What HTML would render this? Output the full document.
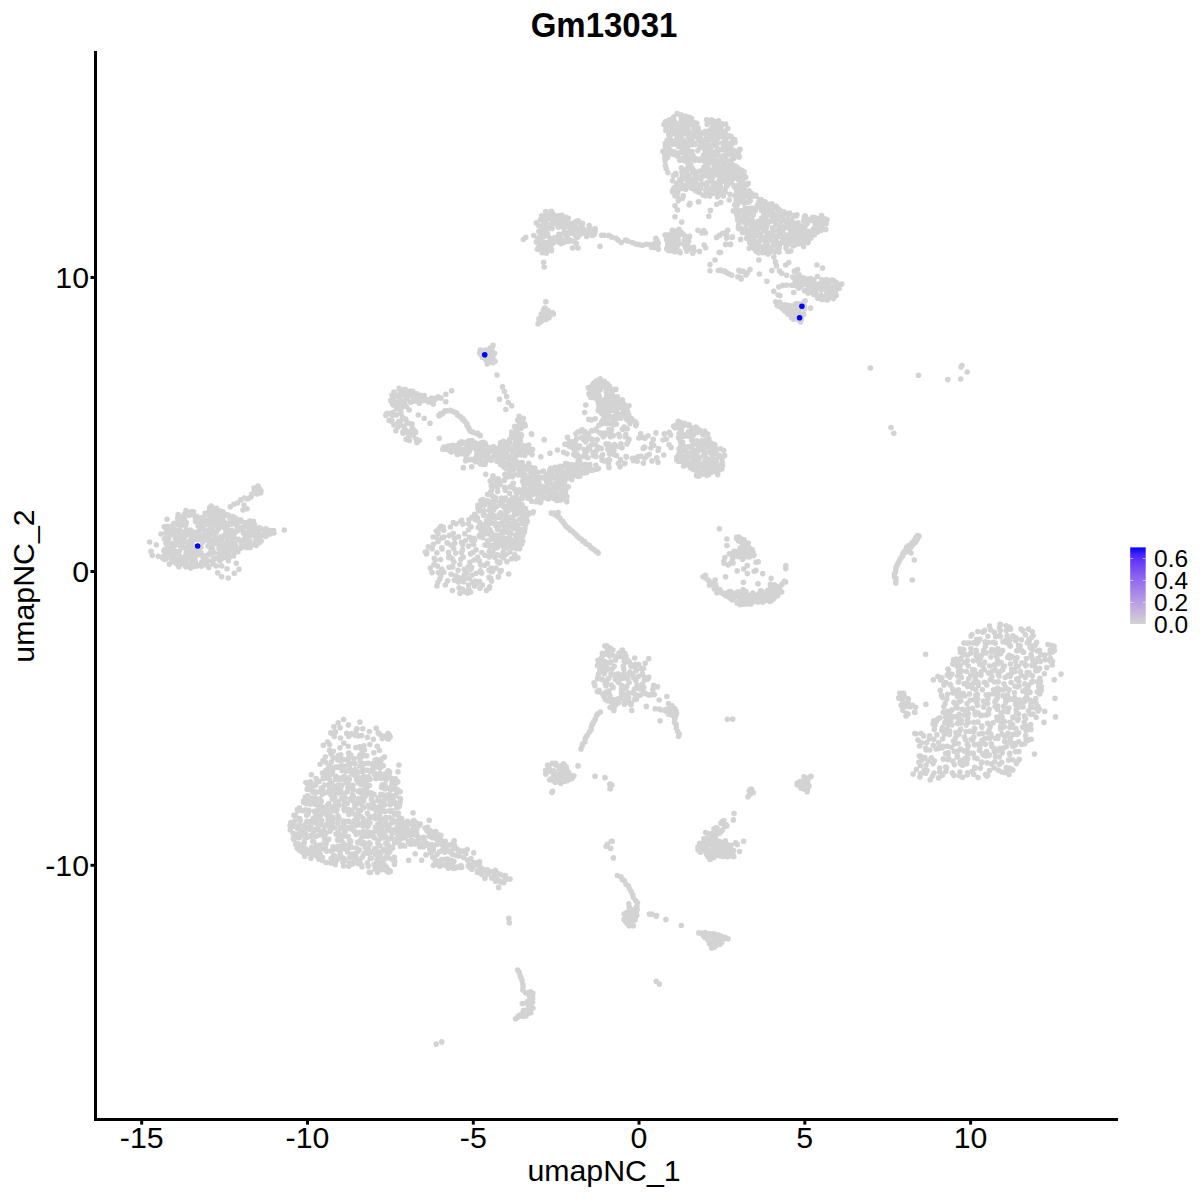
<!DOCTYPE html>
<html><head><meta charset="utf-8"><style>
html,body{margin:0;padding:0;background:#fff;width:1200px;height:1200px;overflow:hidden}
svg{display:block}
text{font-family:"Liberation Sans",sans-serif;fill:#000}
</style></head><body>
<svg width="1200" height="1200" viewBox="0 0 1200 1200">
<rect width="1200" height="1200" fill="#fff"/>

<path d="M547.4 214.4h0M551.2 213.8h0M544.0 216.3h0M548.2 215.7h0M554.9 217.2h0M556.4 217.6h0M545.2 219.8h0M548.9 218.4h0M553.4 218.2h0M553.9 220.3h0M558.6 219.1h0M563.7 218.8h0M544.0 222.2h0M546.5 223.6h0M552.5 221.9h0M557.2 222.0h0M560.2 221.6h0M565.9 222.7h0M568.1 223.4h0M570.8 223.8h0M573.4 223.0h0M580.8 223.5h0M541.6 225.7h0M544.2 226.7h0M551.6 224.6h0M556.3 223.7h0M557.5 224.9h0M561.2 224.6h0M566.2 225.0h0M571.1 224.6h0M573.0 224.4h0M575.0 224.2h0M580.9 226.2h0M582.0 226.0h0M589.1 225.6h0M544.7 227.6h0M548.1 226.9h0M549.5 227.1h0M552.1 228.4h0M558.2 226.9h0M559.1 226.7h0M563.9 227.7h0M568.4 227.0h0M570.7 228.1h0M576.3 228.2h0M577.4 228.9h0M580.2 228.3h0M584.1 229.6h0M590.2 228.4h0M593.5 229.4h0M541.9 230.5h0M544.0 231.4h0M547.0 230.5h0M563.9 232.6h0M565.9 232.9h0M569.9 231.8h0M573.4 230.9h0M576.4 231.5h0M580.8 231.9h0M583.8 231.1h0M586.0 230.5h0M592.2 231.7h0M595.1 231.0h0M540.2 235.3h0M544.6 235.9h0M547.5 234.0h0M558.9 234.4h0M559.6 235.0h0M565.6 235.1h0M566.3 235.0h0M570.9 233.2h0M574.4 233.3h0M578.4 235.0h0M585.4 233.8h0M590.2 234.1h0M592.4 235.5h0M541.3 236.9h0M547.8 236.0h0M550.6 238.6h0M554.5 237.9h0M559.7 235.8h0M560.8 238.7h0M567.5 238.2h0M568.0 238.7h0M575.6 235.7h0M539.7 240.8h0M544.0 242.0h0M549.2 241.8h0M554.7 240.2h0M558.5 240.7h0M560.6 240.8h0M563.0 240.8h0M568.1 241.3h0M570.0 239.8h0M574.2 241.4h0M539.7 244.8h0M543.1 244.4h0M548.3 243.6h0M553.7 242.6h0M554.6 242.0h0M559.7 242.6h0M562.6 242.5h0M539.6 245.1h0M542.4 246.4h0M545.2 245.9h0M548.8 246.7h0M538.0 248.9h0M540.4 250.0h0M545.0 250.6h0M547.7 247.9h0M551.5 250.6h0M542.1 252.8h0M536.3 222.7h0M538.4 225.5h0M538.8 231.5h0M540.0 230.7h0M537.8 238.8h0M536.4 241.9h0M538.3 247.8h0M537.4 249.2h0M541.8 251.1h0M546.4 253.1h0M549.7 249.8h0M551.4 249.5h0M551.5 244.4h0M561.0 243.6h0M563.9 242.2h0M571.2 241.0h0M576.2 243.4h0M577.9 237.1h0M579.7 234.5h0M580.5 234.1h0M586.7 236.4h0M588.3 233.8h0M594.5 234.2h0M595.2 228.8h0M582.5 223.3h0M578.2 220.8h0M576.4 221.4h0M568.4 218.2h0M566.3 217.4h0M561.9 215.3h0M558.5 215.7h0M553.3 214.0h0M551.3 211.3h0M545.7 211.5h0M541.7 215.9h0M540.5 219.8h0M523.3 239.5h0M525.8 237.2h0M533.8 235.5h0M572.5 248.0h0M578.0 248.0h0M543.7 262.2h0M544.2 267.0h0M600.0 246.2h0M601.5 235.2h0M604.2 235.2h0M608.7 235.4h0M611.6 237.1h0M615.7 238.1h0M618.1 240.1h0M621.2 242.5h0M625.5 240.1h0M627.8 241.1h0M632.3 242.6h0M636.0 244.1h0M639.3 244.6h0M642.5 245.2h0M646.4 244.2h0M649.7 244.6h0M654.7 243.2h0M656.9 240.4h0M656.8 244.1h0M657.8 247.3h0M654.8 247.4h0M651.5 247.3h0M545.8 301.7h0M544.7 308.0h0M545.3 309.8h0M543.4 310.4h0M546.7 312.2h0M548.0 310.6h0M543.4 312.9h0M545.5 314.9h0M550.5 314.2h0M545.7 316.0h0M549.0 317.7h0M542.9 319.8h0M546.1 319.5h0M539.3 321.7h0M541.1 321.6h0M545.3 308.3h0M541.4 314.0h0M541.7 318.0h0M538.9 318.8h0M538.1 323.8h0M541.4 320.1h0M549.8 316.0h0M553.3 313.9h0M552.8 312.8h0M545.0 309.6h0M683.8 116.5h0M685.7 116.2h0M672.1 119.0h0M673.7 117.0h0M681.4 118.0h0M683.4 118.3h0M688.2 118.0h0M691.6 118.6h0M669.1 120.1h0M673.3 121.2h0M674.3 121.2h0M680.8 122.4h0M681.5 121.5h0M688.0 121.0h0M689.0 122.0h0M710.9 122.1h0M713.2 120.7h0M663.9 124.6h0M666.4 124.6h0M669.9 123.0h0M672.6 123.4h0M678.4 123.8h0M681.2 125.3h0M684.9 123.8h0M688.3 123.4h0M693.4 122.6h0M695.8 125.2h0M707.1 124.3h0M711.9 122.9h0M716.9 122.5h0M719.6 125.2h0M670.4 125.4h0M672.9 125.3h0M677.1 125.3h0M679.5 126.8h0M684.6 127.1h0M687.9 126.4h0M688.2 125.4h0M693.4 125.6h0M698.1 127.9h0M712.4 128.5h0M715.1 127.9h0M717.4 125.1h0M721.3 125.9h0M666.3 130.2h0M672.1 128.3h0M673.6 130.5h0M677.7 129.8h0M679.5 130.6h0M682.9 130.1h0M687.7 128.3h0M693.8 129.6h0M698.2 129.5h0M705.5 131.2h0M710.1 130.1h0M711.8 128.3h0M716.9 129.8h0M718.3 129.8h0M721.8 130.6h0M669.3 131.9h0M672.8 132.5h0M675.9 134.0h0M680.0 132.1h0M683.1 133.7h0M687.9 134.2h0M688.3 131.6h0M693.4 133.6h0M695.9 131.7h0M702.0 132.7h0M705.6 134.0h0M707.4 132.8h0M712.4 133.3h0M716.1 132.5h0M719.2 132.6h0M722.5 131.3h0M724.4 133.4h0M671.3 134.4h0M677.3 135.6h0M681.7 135.7h0M688.2 137.2h0M693.0 136.9h0M695.2 136.3h0M700.3 134.8h0M700.5 137.6h0M706.6 134.9h0M708.2 136.9h0M711.9 134.2h0M715.7 136.5h0M718.2 137.5h0M721.6 136.8h0M727.0 136.4h0M731.2 136.6h0M669.9 139.3h0M671.2 140.2h0M676.7 138.9h0M680.9 140.2h0M689.6 138.2h0M692.2 137.7h0M698.3 139.2h0M698.9 140.5h0M706.2 138.7h0M710.7 138.5h0M714.3 138.6h0M717.0 139.9h0M726.2 138.5h0M732.7 138.7h0M667.1 140.3h0M671.5 141.8h0M674.6 142.6h0M677.3 143.6h0M682.6 140.6h0M683.2 140.4h0M688.0 142.2h0M692.9 142.3h0M694.6 143.5h0M700.0 140.8h0M702.1 140.6h0M707.4 142.5h0M708.2 140.3h0M713.2 140.8h0M716.2 141.1h0M722.8 142.9h0M725.2 141.3h0M730.5 143.0h0M668.3 146.4h0M672.8 144.1h0M676.9 144.6h0M680.5 144.6h0M684.1 146.5h0M685.8 143.5h0M691.0 144.8h0M694.9 144.4h0M700.6 143.4h0M704.1 145.1h0M705.7 146.1h0M710.4 145.9h0M714.2 145.5h0M717.3 143.5h0M723.3 144.9h0M727.5 144.9h0M731.5 144.5h0M665.5 148.3h0M669.7 149.8h0M678.8 146.8h0M680.9 146.6h0M685.8 149.7h0M687.3 147.8h0M699.9 147.2h0M703.8 148.2h0M704.6 147.4h0M708.9 149.6h0M711.4 146.7h0M717.8 148.9h0M723.1 149.0h0M725.7 148.5h0M728.9 148.4h0M665.7 149.9h0M668.6 149.4h0M671.0 151.0h0M674.2 151.8h0M681.5 151.8h0M686.1 152.0h0M690.3 151.7h0M692.1 151.5h0M697.9 150.6h0M705.1 152.5h0M708.0 151.1h0M710.3 151.0h0M714.1 152.0h0M717.0 151.8h0M720.8 149.7h0M725.5 150.0h0M728.7 151.3h0M732.3 149.8h0M734.4 150.9h0M664.5 153.7h0M668.9 154.0h0M671.1 153.7h0M674.0 154.5h0M676.1 152.7h0M681.2 152.4h0M685.0 155.7h0M686.9 154.4h0M693.0 155.2h0M703.6 155.0h0M706.4 152.7h0M710.2 155.3h0M713.8 153.1h0M715.0 153.4h0M718.2 155.1h0M724.0 155.4h0M728.1 154.6h0M731.7 152.5h0M734.5 155.6h0M738.1 154.5h0M664.8 157.7h0M667.6 157.4h0M677.8 156.3h0M681.6 158.8h0M685.0 157.2h0M689.1 157.5h0M696.2 158.9h0M700.7 158.7h0M702.8 158.8h0M705.7 158.2h0M710.7 157.2h0M713.9 158.0h0M721.8 158.6h0M724.8 158.1h0M732.8 157.8h0M679.8 160.2h0M684.4 160.7h0M689.1 160.3h0M691.2 159.8h0M695.0 160.3h0M699.3 160.3h0M702.3 160.1h0M704.4 159.8h0M710.8 160.2h0M712.6 158.8h0M716.9 160.7h0M720.4 161.3h0M722.7 161.8h0M726.7 160.2h0M731.4 160.3h0M687.6 162.9h0M689.9 163.0h0M705.4 162.2h0M705.8 163.2h0M709.4 163.0h0M713.9 162.9h0M716.5 163.4h0M722.9 163.1h0M726.0 161.7h0M730.0 162.3h0M731.5 162.7h0M681.3 167.7h0M688.1 167.2h0M690.7 164.7h0M703.8 167.3h0M706.7 167.1h0M707.9 166.2h0M714.2 166.3h0M716.3 166.4h0M719.3 167.0h0M724.7 165.2h0M725.7 167.4h0M730.3 166.1h0M734.7 165.7h0M684.0 170.1h0M687.3 168.5h0M691.3 169.2h0M692.3 168.2h0M702.8 170.2h0M708.0 169.2h0M711.3 170.3h0M713.7 170.7h0M718.5 168.4h0M721.6 169.7h0M725.7 170.6h0M727.5 169.7h0M731.3 169.9h0M736.0 170.8h0M737.2 170.3h0M742.2 170.7h0M675.7 173.2h0M681.9 172.1h0M686.5 171.8h0M692.6 171.9h0M694.5 171.0h0M699.9 171.1h0M702.5 172.0h0M705.5 171.6h0M710.6 171.7h0M711.4 173.5h0M717.8 172.2h0M720.4 171.1h0M724.2 172.7h0M727.6 170.7h0M729.9 174.0h0M739.0 170.7h0M742.6 173.4h0M686.8 176.3h0M689.0 175.6h0M695.0 175.1h0M695.9 174.6h0M701.1 176.9h0M704.6 175.8h0M707.5 173.8h0M709.9 175.5h0M714.3 175.1h0M719.2 176.6h0M721.9 174.0h0M726.5 177.0h0M727.5 174.9h0M731.4 175.7h0M742.8 174.3h0M681.2 180.0h0M683.8 178.4h0M687.8 179.6h0M690.6 179.0h0M696.4 179.3h0M697.6 177.2h0M700.8 179.2h0M709.1 177.1h0M712.7 177.3h0M721.0 177.8h0M721.7 178.9h0M681.4 180.8h0M687.9 181.5h0M691.1 182.1h0M692.8 179.8h0M707.0 182.5h0M711.7 180.9h0M713.6 183.1h0M718.6 181.5h0M720.4 182.4h0M724.7 180.9h0M679.8 183.0h0M684.2 185.6h0M688.6 184.9h0M696.3 183.8h0M700.2 185.0h0M703.0 184.4h0M704.4 184.5h0M707.5 182.9h0M713.3 185.8h0M716.2 184.0h0M718.5 182.8h0M726.8 183.9h0M679.6 189.0h0M683.5 187.4h0M687.6 186.5h0M691.6 188.3h0M697.1 187.2h0M700.4 188.6h0M706.9 187.2h0M711.8 188.3h0M713.8 189.1h0M716.7 188.9h0M720.6 186.9h0M726.6 185.9h0M677.7 191.7h0M696.8 189.5h0M705.7 190.1h0M710.3 190.1h0M712.5 189.5h0M716.7 191.8h0M719.6 192.1h0M723.7 190.7h0M677.5 193.3h0M707.8 194.3h0M713.3 192.7h0M717.5 192.8h0M720.1 194.4h0M723.2 192.7h0M666.4 127.2h0M665.8 130.3h0M668.7 134.8h0M668.1 141.1h0M665.4 143.3h0M665.4 146.6h0M662.9 151.3h0M665.1 160.8h0M665.4 165.5h0M666.2 168.6h0M667.9 172.6h0M673.4 175.6h0M676.0 174.7h0M682.2 176.6h0M679.8 179.6h0M677.7 184.6h0M672.7 190.2h0M674.8 192.7h0M676.7 195.0h0M677.8 192.6h0M680.8 188.6h0M682.9 188.2h0M684.5 186.4h0M691.9 186.6h0M695.6 190.7h0M698.7 192.0h0M703.0 195.0h0M709.8 196.1h0M709.8 194.9h0M718.1 195.4h0M723.3 196.0h0M725.1 192.1h0M727.5 185.2h0M725.3 180.9h0M728.5 178.2h0M733.4 177.5h0M737.6 176.3h0M740.6 176.1h0M743.6 175.6h0M744.0 171.8h0M739.5 169.2h0M736.8 166.9h0M733.9 158.2h0M733.8 156.2h0M738.6 155.0h0M738.7 150.7h0M733.4 150.7h0M730.4 147.6h0M734.7 139.6h0M733.6 139.7h0M729.1 135.8h0M725.4 131.3h0M727.8 128.6h0M725.7 124.0h0M722.1 123.7h0M718.5 120.8h0M711.6 119.7h0M706.7 119.8h0M695.5 123.1h0M696.9 123.2h0M689.1 117.4h0M685.5 116.5h0M684.3 116.5h0M680.8 114.9h0M677.1 113.6h0M665.4 121.7h0M734.0 174.3h0M736.6 173.6h0M733.9 176.5h0M739.4 177.3h0M745.2 177.3h0M745.7 177.3h0M732.9 178.4h0M738.1 179.6h0M742.8 182.1h0M736.3 185.8h0M740.3 183.5h0M741.4 182.5h0M734.1 185.9h0M738.9 185.9h0M727.3 173.7h0M730.8 178.0h0M731.4 181.6h0M730.7 182.4h0M737.7 187.6h0M737.5 188.3h0M744.0 186.8h0M746.0 184.5h0M747.0 184.7h0M744.5 177.8h0M744.2 175.3h0M740.2 173.1h0M735.8 173.4h0M734.7 172.0h0M685.7 189.2h0M694.2 189.2h0M698.3 191.7h0M698.3 201.7h0M690.0 203.3h0M705.0 195.8h0M713.3 193.3h0M735.0 187.1h0M748.3 183.3h0M740.0 149.2h0M739.2 157.1h0M735.0 142.5h0M736.7 190.1h0M742.2 187.4h0M736.4 193.4h0M740.3 190.4h0M742.3 191.1h0M746.1 191.3h0M737.9 194.2h0M740.6 194.8h0M743.3 195.5h0M746.5 194.2h0M752.8 195.8h0M756.0 196.1h0M740.2 199.5h0M742.5 199.2h0M744.8 196.3h0M749.2 198.1h0M751.9 196.3h0M736.2 199.5h0M740.9 201.8h0M743.7 201.4h0M748.8 202.1h0M750.2 200.7h0M758.7 202.4h0M762.5 201.5h0M736.1 202.4h0M737.3 204.7h0M743.8 202.7h0M745.4 202.4h0M757.4 205.3h0M760.1 203.5h0M764.8 203.9h0M768.8 204.9h0M771.6 205.2h0M736.4 207.7h0M745.2 208.1h0M748.6 208.6h0M752.0 208.0h0M756.1 208.1h0M759.2 205.8h0M762.1 208.6h0M765.2 206.9h0M768.2 207.5h0M773.4 207.2h0M777.2 207.8h0M739.8 211.6h0M741.0 210.8h0M745.3 209.2h0M748.0 211.8h0M752.9 211.4h0M755.2 210.7h0M761.4 210.3h0M764.0 210.6h0M769.1 210.3h0M777.9 209.9h0M779.4 209.9h0M737.6 211.6h0M739.6 211.8h0M744.9 213.6h0M749.4 214.0h0M752.0 213.4h0M765.9 211.7h0M768.5 214.2h0M772.3 211.7h0M775.7 214.7h0M779.7 213.2h0M783.9 211.9h0M785.7 213.2h0M789.5 213.1h0M737.2 216.0h0M738.1 214.7h0M747.7 216.7h0M748.5 214.5h0M753.3 215.1h0M763.8 214.7h0M766.5 216.3h0M771.1 214.6h0M773.4 217.0h0M776.5 216.1h0M782.2 216.9h0M787.7 214.7h0M793.1 215.5h0M796.1 216.1h0M815.3 217.8h0M738.6 220.5h0M739.7 217.8h0M743.4 217.9h0M748.1 220.6h0M752.0 219.8h0M761.7 218.1h0M763.6 220.4h0M772.3 218.0h0M776.7 219.2h0M780.8 217.7h0M783.6 219.4h0M787.3 219.9h0M789.0 219.9h0M791.7 220.2h0M805.1 218.4h0M807.7 219.1h0M811.5 220.2h0M813.3 218.3h0M819.5 220.7h0M821.3 220.3h0M824.3 218.7h0M739.3 220.8h0M744.2 222.5h0M744.6 222.1h0M749.9 223.8h0M752.3 221.3h0M757.7 221.6h0M759.0 221.1h0M762.0 221.2h0M768.2 221.5h0M770.2 221.4h0M775.2 221.9h0M781.1 221.2h0M786.3 223.6h0M789.9 222.4h0M794.2 223.1h0M798.0 222.8h0M803.7 220.7h0M804.6 221.2h0M807.5 223.2h0M815.0 220.6h0M819.8 222.5h0M824.2 223.2h0M825.9 223.7h0M746.1 224.6h0M751.9 226.5h0M755.9 224.4h0M759.3 226.8h0M761.1 225.7h0M764.9 225.1h0M767.2 224.5h0M775.9 224.2h0M779.3 226.1h0M783.5 226.8h0M787.1 225.8h0M790.4 226.3h0M794.5 224.1h0M796.0 226.6h0M800.4 225.7h0M815.2 224.3h0M818.0 224.2h0M822.3 224.7h0M826.2 223.8h0M742.9 229.6h0M745.6 229.4h0M749.2 229.8h0M753.6 227.3h0M757.2 229.1h0M761.8 228.3h0M762.1 227.1h0M766.4 227.5h0M772.4 227.7h0M779.1 229.5h0M781.1 227.6h0M785.0 227.7h0M789.2 227.9h0M792.6 228.3h0M796.6 229.3h0M797.3 226.7h0M800.8 227.5h0M805.0 226.6h0M813.5 228.8h0M816.3 226.5h0M818.7 229.4h0M821.4 227.6h0M743.6 229.6h0M748.3 230.0h0M751.9 230.4h0M753.1 232.8h0M757.3 230.1h0M763.2 230.2h0M766.0 231.4h0M768.3 232.8h0M773.2 230.5h0M774.7 229.9h0M780.4 231.8h0M782.7 230.7h0M790.7 232.1h0M793.1 231.0h0M796.2 230.8h0M801.5 230.9h0M803.8 230.9h0M808.6 231.4h0M811.7 231.7h0M814.5 230.5h0M746.6 232.8h0M748.6 234.4h0M752.4 235.8h0M758.0 235.0h0M760.7 234.4h0M768.1 235.9h0M771.6 235.1h0M772.5 234.9h0M779.0 233.7h0M780.5 234.6h0M786.1 235.0h0M789.3 235.7h0M792.4 233.3h0M794.8 234.1h0M799.7 235.0h0M804.0 234.9h0M809.3 233.4h0M812.1 233.7h0M748.8 238.6h0M751.9 235.7h0M753.9 238.3h0M758.8 235.9h0M762.5 238.3h0M766.2 236.8h0M768.8 235.7h0M774.5 235.8h0M779.1 236.3h0M782.3 237.1h0M786.8 238.7h0M790.9 237.7h0M792.6 236.8h0M795.6 235.7h0M801.1 237.4h0M803.6 238.0h0M807.5 236.1h0M810.0 236.0h0M753.3 241.2h0M755.3 241.5h0M759.4 241.3h0M765.1 241.2h0M769.9 239.7h0M773.2 241.5h0M776.0 239.1h0M782.7 240.8h0M784.8 239.5h0M789.6 241.4h0M791.7 239.2h0M795.7 239.4h0M799.2 239.4h0M803.5 239.6h0M807.1 241.2h0M807.4 240.1h0M752.2 243.5h0M753.9 243.0h0M757.6 245.0h0M765.4 245.0h0M767.1 243.8h0M773.9 244.7h0M775.6 242.6h0M779.1 243.2h0M782.6 242.8h0M786.1 244.1h0M788.5 243.4h0M792.6 242.9h0M795.2 244.6h0M798.7 244.0h0M803.0 242.9h0M754.3 247.0h0M755.8 246.3h0M759.7 246.2h0M763.4 246.7h0M766.8 246.8h0M769.8 247.2h0M777.0 247.3h0M779.3 245.1h0M786.0 247.9h0M786.5 245.7h0M792.7 245.6h0M754.6 249.0h0M756.9 249.2h0M763.0 250.9h0M764.8 248.5h0M768.9 250.9h0M771.1 248.4h0M779.2 248.1h0M756.0 251.1h0M764.2 252.2h0M766.3 252.0h0M778.9 252.1h0M788.7 251.3h0M737.7 187.8h0M737.3 191.1h0M735.0 196.0h0M736.9 201.6h0M734.8 205.1h0M736.6 213.7h0M739.0 217.8h0M737.7 219.9h0M738.7 225.1h0M741.2 228.3h0M742.5 232.4h0M747.4 236.4h0M749.7 242.8h0M750.4 243.1h0M751.4 246.5h0M757.3 250.3h0M758.7 252.9h0M762.7 252.8h0M768.0 254.1h0M769.8 252.2h0M775.0 251.7h0M787.8 251.5h0M790.8 251.0h0M794.0 245.6h0M803.6 246.4h0M808.1 242.6h0M811.0 237.9h0M814.3 234.8h0M817.5 232.1h0M820.8 230.4h0M825.8 229.6h0M825.6 221.8h0M826.9 219.6h0M821.6 215.5h0M818.6 218.8h0M812.7 217.4h0M805.1 215.7h0M804.2 217.0h0M796.9 214.9h0M787.9 213.8h0M779.6 210.0h0M776.0 206.3h0M772.0 203.7h0M769.0 204.4h0M764.9 201.7h0M761.2 199.6h0M759.7 199.5h0M755.9 195.2h0M752.0 193.9h0M749.0 190.7h0M744.3 186.8h0M741.6 187.2h0M672.5 180.8h0M676.7 183.3h0M680.0 181.7h0M674.2 187.5h0M672.5 191.7h0M675.0 195.8h0M678.3 198.3h0M678.3 200.8h0M683.3 195.8h0M682.5 198.3h0M685.8 189.2h0M689.2 205.0h0M698.8 201.7h0M675.0 205.8h0M677.5 210.0h0M675.0 216.7h0M681.7 222.1h0M695.0 189.2h0M699.2 192.5h0M705.0 195.8h0M713.3 193.3h0M719.2 189.2h0M725.0 189.2h0M730.0 194.2h0M729.2 200.0h0M717.5 196.7h0M716.7 204.2h0M720.8 202.5h0M735.0 187.5h0M733.3 210.8h0M744.2 215.0h0M749.2 220.0h0M710.4 210.4h0M708.8 216.2h0M655.8 238.3h0M658.3 243.3h0M658.3 249.2h0M738.3 228.3h0M745.8 230.8h0M740.8 239.2h0M719.2 252.5h0M715.0 260.0h0M710.0 264.6h0M710.0 270.8h0M725.8 244.2h0M730.0 244.2h0M750.0 233.3h0M746.7 238.3h0M750.8 243.3h0M749.2 248.3h0M674.0 230.8h0M676.2 231.7h0M670.4 234.9h0M676.9 234.6h0M679.4 234.2h0M668.2 235.2h0M673.8 236.8h0M677.7 235.9h0M679.4 235.1h0M685.1 236.1h0M669.1 240.2h0M670.6 238.1h0M675.4 240.1h0M678.1 240.1h0M684.3 240.3h0M667.8 244.3h0M670.0 243.2h0M673.9 241.5h0M677.4 244.4h0M679.2 243.6h0M685.1 243.8h0M687.7 241.0h0M667.7 246.0h0M672.1 246.4h0M673.6 246.6h0M678.0 244.9h0M683.8 244.1h0M686.4 244.2h0M687.7 245.4h0M671.1 248.2h0M676.3 249.1h0M685.5 247.8h0M688.9 248.4h0M691.0 248.4h0M672.2 250.7h0M674.8 251.7h0M679.6 251.4h0M693.6 250.3h0M665.1 235.1h0M666.5 239.8h0M666.7 249.0h0M668.7 250.6h0M670.6 250.2h0M675.8 251.2h0M680.2 252.7h0M686.9 251.1h0M692.7 253.1h0M694.1 251.1h0M693.6 247.3h0M688.6 241.5h0M688.2 239.5h0M689.6 236.4h0M683.2 234.2h0M681.3 232.3h0M679.0 229.4h0M672.4 230.4h0M672.3 231.2h0M667.6 235.0h0M701.9 232.9h0M704.2 245.0h0M697.9 230.2h0M699.5 251.4h0M705.6 247.7h0M705.4 233.0h0M703.7 230.5h0M716.6 237.4h0M719.6 235.4h0M722.7 233.2h0M727.7 230.3h0M726.6 234.9h0M726.6 238.1h0M732.4 236.9h0M718.4 270.5h0M722.2 270.7h0M726.4 272.5h0M731.5 275.1h0M794.5 271.1h0M799.1 274.7h0M794.4 277.3h0M798.2 275.6h0M795.2 281.2h0M798.0 279.3h0M801.5 280.3h0M803.0 280.9h0M806.5 279.7h0M813.7 280.1h0M825.5 280.9h0M829.3 281.0h0M796.0 284.5h0M800.2 282.1h0M802.8 283.4h0M804.6 284.4h0M809.3 281.3h0M812.5 281.1h0M817.3 284.4h0M819.0 284.1h0M823.8 284.5h0M828.1 283.1h0M831.6 281.2h0M836.3 282.6h0M799.0 286.5h0M800.3 286.7h0M804.2 284.6h0M809.1 286.0h0M813.1 286.4h0M816.0 284.6h0M817.4 286.0h0M822.0 287.5h0M824.1 287.3h0M830.1 287.0h0M833.7 286.6h0M836.0 285.2h0M838.1 284.3h0M806.0 290.6h0M809.2 287.3h0M814.4 289.9h0M818.2 288.4h0M821.6 289.9h0M822.7 288.1h0M826.6 288.2h0M832.4 287.2h0M835.6 287.4h0M837.7 288.2h0M807.2 292.1h0M811.1 291.9h0M814.3 293.0h0M826.8 292.7h0M830.6 290.2h0M831.1 291.0h0M813.8 294.4h0M816.4 293.8h0M820.6 295.4h0M825.2 296.3h0M826.6 296.5h0M831.5 295.0h0M834.9 294.3h0M819.5 297.3h0M823.4 299.1h0M824.7 298.2h0M830.5 296.4h0M831.4 296.5h0M834.3 296.7h0M794.3 271.2h0M792.8 277.1h0M794.5 285.5h0M798.7 288.1h0M804.5 290.7h0M808.2 293.1h0M814.0 294.1h0M817.7 298.1h0M821.8 299.4h0M827.4 299.9h0M828.7 297.9h0M833.4 298.6h0M836.3 295.2h0M835.4 290.9h0M839.1 288.5h0M841.7 284.1h0M833.7 280.6h0M832.1 280.1h0M826.4 279.6h0M821.9 279.7h0M817.4 276.5h0M810.8 278.5h0M809.7 278.7h0M805.3 278.5h0M803.2 277.9h0M797.6 269.6h0M773.9 257.0h0M775.5 261.9h0M776.4 265.9h0M779.5 271.1h0M781.9 273.5h0M786.7 275.2h0M778.8 287.0h0M782.7 285.4h0M786.6 285.1h0M791.6 285.3h0M796.8 285.7h0M773.8 291.2h0M778.1 295.0h0M780.0 295.6h0M793.8 292.5h0M816.9 265.0h0M822.5 268.1h0M788.8 262.5h0M785.6 265.0h0M758.8 260.0h0M759.4 274.0h0M766.9 281.2h0M771.9 270.6h0M810.6 308.1h0M800.6 321.9h0M738.8 228.8h0M746.2 231.2h0M740.6 239.4h0M726.2 232.5h0M731.9 237.5h0M725.6 244.4h0M730.6 244.4h0M720.6 252.5h0M777.0 305.0h0M780.7 304.2h0M782.7 305.7h0M787.3 305.3h0M799.1 303.9h0M802.8 305.9h0M778.5 306.2h0M782.1 308.6h0M785.8 309.0h0M788.2 305.6h0M789.9 305.8h0M795.5 307.4h0M797.5 306.2h0M802.1 305.9h0M785.4 309.4h0M789.7 309.5h0M793.9 309.1h0M798.2 309.0h0M799.5 310.0h0M787.7 313.6h0M792.4 312.2h0M797.2 313.6h0M800.7 314.9h0M791.6 317.8h0M795.4 315.7h0M800.2 314.9h0M775.7 301.8h0M779.8 306.5h0M784.8 311.1h0M787.9 313.5h0M788.6 314.5h0M793.6 319.3h0M798.0 319.5h0M801.3 318.9h0M803.5 314.2h0M804.7 308.8h0M804.6 306.2h0M805.1 300.9h0M803.3 302.7h0M796.9 303.7h0M795.1 304.4h0M790.6 306.6h0M785.1 304.9h0M779.8 302.3h0M780.1 303.4h0M743.2 271.4h0M747.5 272.7h0M740.3 277.5h0M740.3 271.2h0M737.8 276.7h0M741.1 278.9h0M745.9 274.9h0M745.5 273.4h0M750.0 269.5h0M743.3 271.2h0M738.9 270.4h0M720.4 270.1h0M724.8 271.1h0M728.4 273.6h0M731.8 275.3h0M491.8 348.6h0M483.1 351.6h0M490.4 351.5h0M481.2 354.5h0M483.4 351.7h0M487.7 353.4h0M490.6 352.9h0M484.0 357.2h0M488.4 356.4h0M491.3 357.0h0M486.0 358.1h0M489.1 358.7h0M491.6 359.6h0M485.9 360.1h0M488.7 360.8h0M492.1 361.4h0M479.7 353.2h0M482.3 357.2h0M486.0 358.3h0M487.3 364.1h0M492.8 362.7h0M495.1 361.2h0M492.8 357.6h0M494.6 353.3h0M493.0 345.4h0M490.2 348.1h0M485.5 350.1h0M480.3 350.1h0M497.0 375.0h0M499.5 399.2h0M505.8 409.5h0M508.3 402.5h0M511.7 405.8h0M502.5 386.9h0M504.5 391.5h0M506.6 396.6h0M394.0 392.1h0M399.3 389.3h0M404.3 389.5h0M404.7 390.7h0M393.0 394.7h0M398.7 395.1h0M400.4 393.7h0M404.9 393.6h0M409.3 392.8h0M392.1 395.0h0M397.5 395.7h0M397.8 396.2h0M401.1 395.5h0M406.1 396.9h0M410.3 395.1h0M413.3 396.6h0M419.6 397.7h0M432.9 398.2h0M438.1 396.8h0M390.8 400.2h0M393.3 399.0h0M399.6 400.3h0M404.1 400.7h0M407.4 398.3h0M413.6 399.9h0M418.0 398.9h0M422.5 400.7h0M426.3 399.6h0M427.9 401.3h0M433.4 401.0h0M435.7 399.1h0M392.0 401.8h0M395.6 402.4h0M399.5 402.1h0M404.5 400.9h0M404.9 402.1h0M410.7 402.3h0M414.7 400.9h0M433.2 403.0h0M393.8 405.1h0M397.2 405.9h0M400.5 406.2h0M403.1 405.5h0M396.5 408.7h0M400.9 413.5h0M391.8 400.7h0M391.1 401.3h0M392.7 404.5h0M400.7 410.3h0M401.3 407.9h0M406.2 406.5h0M412.9 401.3h0M415.8 399.7h0M420.7 400.8h0M425.1 400.3h0M428.5 401.9h0M433.2 404.1h0M440.9 398.1h0M437.0 398.1h0M431.3 398.4h0M432.1 399.2h0M424.1 395.6h0M420.6 395.2h0M416.5 393.8h0M412.7 391.2h0M410.6 391.0h0M405.3 389.5h0M400.4 390.1h0M399.1 388.3h0M385.8 415.2h0M392.4 415.2h0M391.8 420.5h0M398.7 421.6h0M400.6 421.3h0M394.0 424.1h0M400.0 424.7h0M404.3 426.4h0M408.9 423.2h0M403.4 431.0h0M406.2 430.6h0M413.1 429.4h0M405.8 431.6h0M409.5 431.7h0M414.6 432.6h0M408.9 435.7h0M413.1 435.3h0M416.0 439.0h0M386.6 413.9h0M386.3 414.8h0M389.1 420.3h0M391.4 421.2h0M393.9 425.0h0M398.2 426.8h0M403.0 432.1h0M403.0 433.3h0M406.1 439.2h0M409.4 440.4h0M416.9 442.4h0M419.3 440.5h0M415.6 432.3h0M414.8 431.0h0M412.1 427.3h0M412.1 424.1h0M407.1 422.5h0M405.7 419.1h0M402.4 417.2h0M396.3 414.9h0M392.6 412.5h0M387.7 413.4h0M409.2 410.0h0M419.2 403.3h0M418.3 415.0h0M424.2 418.3h0M430.0 423.3h0M395.8 430.8h0M445.8 401.7h0M445.8 394.2h0M451.7 390.8h0M439.1 415.7h0M442.4 414.0h0M445.5 411.2h0M450.2 410.4h0M453.2 411.5h0M456.6 413.0h0M460.1 416.7h0M462.7 419.4h0M465.2 421.8h0M467.0 425.6h0M469.2 429.6h0M472.9 432.3h0M477.6 433.2h0M480.1 435.4h0M439.2 438.3h0M463.3 468.0h0M471.7 466.7h0M485.8 474.2h0M518.3 475.0h0M544.2 439.7h0M531.3 433.8h0M550.0 453.3h0M540.8 456.7h0M557.5 450.0h0M599.8 380.1h0M600.1 381.8h0M604.2 381.4h0M591.1 386.7h0M595.3 385.5h0M598.7 384.5h0M600.6 384.9h0M606.1 383.4h0M607.5 384.1h0M589.8 388.3h0M593.3 387.5h0M597.0 389.0h0M598.9 389.2h0M603.3 386.9h0M606.3 388.2h0M610.1 388.2h0M590.2 392.0h0M592.9 391.9h0M596.7 391.6h0M600.4 389.6h0M606.3 392.1h0M612.0 392.5h0M594.5 393.1h0M598.1 393.4h0M606.8 395.7h0M611.7 394.0h0M599.2 396.0h0M605.0 399.0h0M609.0 398.1h0M613.4 397.5h0M598.1 400.7h0M601.5 400.3h0M607.0 398.7h0M608.7 398.6h0M613.2 399.3h0M615.8 401.2h0M619.9 401.8h0M600.3 403.2h0M604.8 404.8h0M609.1 402.1h0M613.5 404.1h0M617.9 402.6h0M621.9 404.6h0M600.5 407.2h0M603.9 407.3h0M605.2 405.3h0M610.1 406.4h0M612.1 407.8h0M618.8 406.3h0M619.8 404.8h0M624.7 407.0h0M627.4 406.4h0M598.2 410.6h0M602.3 409.2h0M603.5 408.2h0M606.9 408.5h0M612.3 410.2h0M616.2 408.7h0M618.3 408.0h0M623.4 410.2h0M603.4 413.4h0M607.8 411.3h0M608.5 414.0h0M616.2 411.7h0M620.7 414.1h0M624.6 412.4h0M608.2 414.9h0M611.3 417.0h0M614.5 416.3h0M619.3 415.7h0M620.9 414.0h0M624.8 415.0h0M628.7 414.9h0M604.3 418.9h0M606.6 417.6h0M611.8 417.3h0M614.4 419.5h0M626.4 418.9h0M631.1 419.9h0M603.6 422.5h0M606.9 421.1h0M629.1 420.0h0M633.7 420.8h0M604.8 422.9h0M606.9 423.6h0M610.8 423.8h0M610.6 433.6h0M588.3 387.8h0M589.0 393.9h0M592.0 395.2h0M594.7 398.0h0M597.9 400.7h0M598.6 403.8h0M598.9 407.5h0M601.4 412.9h0M604.7 413.9h0M602.5 420.7h0M602.1 424.0h0M602.3 423.1h0M609.0 429.6h0M609.2 433.3h0M610.1 433.4h0M611.5 429.8h0M610.7 430.1h0M613.6 424.7h0M612.0 418.5h0M615.8 419.1h0M620.5 417.3h0M625.8 416.6h0M628.9 420.3h0M629.9 423.4h0M635.7 425.6h0M636.6 423.7h0M635.2 421.7h0M631.2 418.3h0M627.8 412.4h0M627.2 406.9h0M622.3 399.7h0M617.3 396.9h0M615.8 397.7h0M613.7 396.6h0M615.8 389.4h0M613.4 389.6h0M609.3 386.4h0M604.8 383.9h0M600.1 378.9h0M596.3 380.9h0M594.5 382.7h0M593.0 384.3h0M590.8 397.5h0M585.8 405.0h0M584.7 412.5h0M588.7 419.2h0M622.5 429.2h0M625.8 435.8h0M628.0 442.0h0M620.0 466.7h0M625.0 463.3h0M568.3 486.7h0M563.3 493.3h0M566.7 501.7h0M595.8 429.2h0M580.6 431.5h0M588.1 434.1h0M596.1 430.7h0M601.0 433.4h0M583.3 437.1h0M592.1 439.2h0M569.5 441.2h0M575.4 444.3h0M583.7 439.7h0M586.9 439.7h0M591.9 444.4h0M574.1 449.5h0M578.5 447.6h0M584.0 449.5h0M588.8 447.1h0M597.4 448.8h0M601.5 448.5h0M609.3 446.4h0M613.6 447.5h0M567.1 453.7h0M573.7 454.5h0M576.9 454.9h0M585.0 453.9h0M586.6 451.8h0M596.2 451.1h0M602.7 454.7h0M608.7 450.4h0M609.7 453.9h0M575.8 455.7h0M579.8 456.9h0M584.2 456.4h0M593.3 455.4h0M595.8 456.4h0M609.6 460.0h0M566.8 463.7h0M568.4 464.3h0M578.2 460.8h0M579.7 461.0h0M586.2 464.5h0M595.9 465.3h0M602.1 460.3h0M608.4 463.6h0M566.1 465.8h0M573.7 470.4h0M577.5 467.2h0M586.1 469.0h0M588.5 466.1h0M596.7 469.3h0M571.5 471.1h0M575.1 475.4h0M577.9 432.0h0M572.3 441.9h0M564.9 444.3h0M563.6 452.2h0M562.0 467.6h0M561.4 468.3h0M592.8 470.1h0M616.6 455.5h0M618.4 446.2h0M608.7 444.0h0M606.1 443.8h0M604.5 433.1h0M584.2 431.3h0M642.9 437.5h0M648.0 435.7h0M655.9 432.9h0M664.4 433.9h0M645.0 438.3h0M651.7 443.5h0M653.2 439.4h0M663.0 440.0h0M666.2 439.3h0M644.0 447.2h0M653.8 445.3h0M658.6 448.6h0M669.1 444.7h0M643.2 448.2h0M650.9 448.0h0M658.1 450.5h0M636.4 457.7h0M641.0 456.2h0M647.0 455.8h0M649.3 454.3h0M656.8 457.7h0M633.5 460.4h0M637.2 461.3h0M644.9 458.0h0M652.0 460.9h0M638.8 438.0h0M644.8 447.3h0M638.4 456.5h0M632.3 458.3h0M643.4 463.1h0M658.0 462.2h0M663.7 455.0h0M671.0 447.4h0M670.6 434.9h0M669.2 432.3h0M640.7 433.8h0M680.1 422.0h0M675.3 425.4h0M679.4 423.5h0M683.0 425.2h0M685.1 424.4h0M688.3 425.6h0M675.7 427.1h0M679.0 427.4h0M683.1 425.9h0M692.0 428.4h0M695.7 427.1h0M681.4 430.4h0M688.5 431.7h0M691.1 432.2h0M694.4 432.3h0M699.5 430.0h0M680.3 432.2h0M685.4 434.7h0M688.7 435.3h0M691.4 434.2h0M693.7 434.8h0M697.6 432.5h0M702.7 434.5h0M703.4 432.8h0M680.0 436.4h0M684.3 436.1h0M688.5 436.2h0M691.5 438.1h0M702.9 435.0h0M680.5 439.8h0M691.8 440.3h0M694.0 440.8h0M696.8 440.9h0M701.8 440.9h0M704.1 440.7h0M706.7 439.3h0M682.7 442.6h0M693.5 442.7h0M694.6 441.3h0M701.3 442.1h0M701.5 443.6h0M705.2 441.3h0M708.7 444.4h0M684.4 446.9h0M688.3 446.7h0M690.2 446.6h0M693.4 444.1h0M698.0 445.4h0M702.3 445.8h0M704.3 444.3h0M708.1 447.0h0M712.0 446.0h0M714.7 444.8h0M683.0 447.2h0M684.3 450.5h0M692.1 448.9h0M695.5 450.5h0M699.2 449.4h0M704.1 450.1h0M710.9 449.8h0M715.1 448.6h0M716.6 449.5h0M680.6 451.9h0M684.3 450.4h0M687.3 452.6h0M692.5 453.1h0M694.7 452.0h0M697.1 453.2h0M703.1 450.6h0M705.9 453.1h0M710.3 450.6h0M715.7 451.1h0M679.2 453.5h0M683.9 456.4h0M687.1 456.4h0M689.4 456.3h0M691.9 453.5h0M704.1 454.7h0M705.9 453.5h0M711.5 453.7h0M714.8 453.4h0M715.4 453.1h0M719.3 455.2h0M676.7 457.3h0M680.0 458.7h0M683.8 459.1h0M686.9 457.6h0M692.1 456.3h0M696.9 456.3h0M699.7 457.3h0M705.6 458.6h0M707.2 458.9h0M712.4 458.2h0M716.4 459.2h0M719.3 456.5h0M720.9 456.9h0M676.8 460.0h0M678.3 461.5h0M682.4 461.2h0M685.5 459.8h0M687.8 461.2h0M693.3 459.8h0M694.8 462.7h0M698.4 460.9h0M704.6 461.1h0M707.6 459.6h0M710.0 459.6h0M712.8 461.7h0M716.1 462.5h0M722.2 462.0h0M683.8 462.2h0M686.2 463.1h0M692.3 462.7h0M693.2 462.5h0M699.4 464.7h0M701.6 464.5h0M705.5 462.4h0M708.2 464.5h0M713.4 465.5h0M716.4 464.2h0M720.1 465.0h0M722.5 465.6h0M691.5 465.9h0M697.2 466.3h0M700.9 465.6h0M701.6 467.0h0M705.0 466.0h0M708.8 468.0h0M715.5 468.2h0M720.9 468.1h0M693.4 469.4h0M696.8 469.7h0M702.9 471.5h0M704.1 469.1h0M708.6 469.1h0M714.1 470.0h0M720.0 469.6h0M697.2 473.6h0M700.8 472.2h0M702.4 473.9h0M706.1 473.5h0M711.2 472.2h0M715.0 471.5h0M673.6 426.3h0M675.1 427.7h0M680.6 431.9h0M679.1 433.7h0M678.5 437.8h0M680.5 441.9h0M681.0 445.9h0M679.1 448.9h0M680.1 451.0h0M678.4 455.6h0M679.1 461.1h0M683.6 466.0h0M686.5 465.0h0M690.6 468.0h0M694.1 468.7h0M696.5 475.4h0M698.7 476.2h0M706.9 475.5h0M708.9 474.5h0M717.7 474.6h0M722.0 468.7h0M722.0 458.0h0M724.7 455.6h0M723.6 450.4h0M720.3 448.8h0M714.9 445.0h0M714.1 444.4h0M711.4 443.4h0M708.9 438.9h0M707.6 434.1h0M704.6 431.0h0M697.2 428.2h0M689.2 424.8h0M684.7 423.2h0M678.3 421.3h0M553.7 513.0h0M554.8 514.6h0M556.8 515.6h0M557.8 516.6h0M559.7 517.8h0M560.9 519.8h0M562.7 521.4h0M563.9 523.0h0M564.9 524.6h0M566.0 526.2h0M567.8 527.6h0M569.3 528.7h0M570.3 530.2h0M572.1 531.1h0M573.5 532.5h0M575.1 534.0h0M576.9 535.6h0M577.9 536.7h0M579.7 538.3h0M581.6 539.3h0M582.5 540.9h0M584.5 541.6h0M585.5 543.2h0M587.1 544.2h0M589.3 545.3h0M590.6 547.2h0M592.3 548.6h0M594.0 549.5h0M595.5 551.1h0M597.0 551.7h0M598.2 553.1h0M551.7 513.3h0M558.3 512.5h0M517.7 420.2h0M520.3 419.2h0M519.5 425.1h0M521.5 422.3h0M524.7 424.1h0M514.6 426.5h0M515.2 426.5h0M520.1 427.8h0M516.4 428.9h0M517.9 430.5h0M521.0 428.4h0M512.0 434.2h0M515.5 432.5h0M518.3 434.2h0M511.7 435.5h0M513.5 434.4h0M517.3 435.4h0M509.9 439.2h0M515.4 438.8h0M459.5 443.0h0M466.1 443.4h0M470.5 443.0h0M471.8 443.4h0M475.7 443.0h0M481.4 443.0h0M482.7 443.4h0M507.9 441.9h0M509.9 443.0h0M515.7 442.3h0M519.7 441.2h0M520.3 440.7h0M448.4 446.1h0M453.7 445.5h0M455.9 445.7h0M460.8 443.6h0M463.6 443.1h0M467.6 444.3h0M472.1 443.9h0M474.4 443.8h0M477.9 444.1h0M485.6 444.3h0M502.1 443.9h0M506.0 445.4h0M508.8 443.2h0M514.6 445.9h0M517.2 443.3h0M520.0 446.0h0M446.4 449.3h0M446.9 447.8h0M450.6 446.1h0M455.0 447.2h0M458.3 448.1h0M462.5 449.4h0M466.0 448.9h0M469.2 447.0h0M472.8 447.5h0M474.9 447.8h0M480.9 448.0h0M483.0 447.3h0M493.9 448.5h0M498.0 448.4h0M500.2 446.5h0M503.5 448.7h0M508.8 447.4h0M512.5 448.7h0M514.8 446.5h0M518.0 447.1h0M522.6 447.8h0M524.8 448.6h0M528.1 447.2h0M449.3 449.1h0M454.0 450.5h0M455.7 451.2h0M463.5 449.6h0M466.7 450.7h0M469.6 450.9h0M476.0 449.6h0M476.9 449.6h0M481.2 450.3h0M484.2 449.8h0M489.9 450.9h0M492.3 450.8h0M496.6 450.4h0M499.0 451.7h0M500.8 450.4h0M506.2 450.8h0M510.4 449.6h0M517.3 449.2h0M519.2 450.8h0M522.9 449.5h0M526.2 449.9h0M529.1 451.8h0M458.5 453.2h0M463.6 453.4h0M465.6 453.6h0M467.7 453.2h0M476.8 454.0h0M480.9 455.1h0M484.8 452.1h0M487.7 453.7h0M494.9 453.5h0M495.6 453.2h0M500.3 453.6h0M503.9 454.7h0M506.7 453.7h0M512.7 452.4h0M515.9 454.9h0M518.4 454.5h0M520.7 455.0h0M524.1 452.2h0M530.0 452.6h0M466.1 457.5h0M475.2 458.4h0M476.6 456.4h0M481.6 456.5h0M485.5 455.7h0M488.8 458.3h0M493.1 456.7h0M494.3 456.1h0M499.5 456.2h0M506.7 457.7h0M509.5 457.1h0M511.3 458.1h0M469.7 459.8h0M474.3 460.5h0M479.4 458.3h0M486.4 458.3h0M488.6 459.4h0M498.3 460.1h0M499.6 461.4h0M503.2 458.7h0M508.8 459.3h0M511.2 458.3h0M482.6 462.1h0M485.2 463.5h0M504.7 463.2h0M508.6 462.7h0M513.9 463.4h0M516.9 461.9h0M519.8 463.5h0M507.9 465.8h0M510.4 465.2h0M513.7 466.2h0M519.3 464.7h0M527.5 467.3h0M531.4 467.5h0M524.2 468.0h0M527.8 468.4h0M528.9 468.4h0M442.8 449.3h0M445.3 448.4h0M450.0 451.0h0M451.2 452.1h0M457.2 454.5h0M460.9 453.7h0M465.6 460.8h0M470.8 459.2h0M475.6 461.7h0M480.4 463.9h0M483.4 464.5h0M485.0 464.2h0M491.7 459.8h0M491.0 460.3h0M497.0 461.3h0M500.5 464.4h0M503.7 466.7h0M511.0 469.3h0M513.5 466.2h0M519.3 468.9h0M523.6 468.9h0M529.1 469.7h0M530.7 472.2h0M534.7 468.0h0M528.7 463.2h0M522.2 462.5h0M517.9 463.8h0M514.4 459.4h0M515.7 456.4h0M524.8 455.5h0M524.8 454.4h0M532.1 454.6h0M532.6 449.6h0M529.3 448.9h0M528.7 445.1h0M523.5 445.5h0M520.3 442.6h0M520.9 436.7h0M521.4 434.7h0M525.2 426.0h0M522.7 422.0h0M523.5 418.2h0M519.1 416.4h0M515.3 426.5h0M511.7 432.0h0M511.6 436.0h0M503.4 441.3h0M500.5 442.9h0M493.3 446.5h0M489.1 447.8h0M485.1 443.1h0M483.6 442.4h0M481.2 442.8h0M472.1 440.6h0M468.9 440.9h0M466.2 442.2h0M461.4 441.9h0M460.3 443.8h0M452.9 445.3h0M449.6 446.5h0M444.0 447.1h0M438.9 415.4h0M440.8 413.5h0M444.9 410.9h0M447.0 410.7h0M451.3 410.7h0M454.2 412.1h0M457.5 414.9h0M460.8 416.9h0M463.0 418.7h0M465.1 421.6h0M467.2 424.0h0M468.7 427.7h0M470.3 430.9h0M472.8 432.0h0M476.5 433.6h0M480.3 435.8h0M571.0 465.3h0M581.7 465.6h0M556.1 468.1h0M559.9 466.3h0M561.5 466.6h0M571.6 467.6h0M574.0 465.2h0M578.3 467.1h0M578.9 467.4h0M550.9 471.4h0M553.3 468.6h0M557.7 471.5h0M566.1 471.7h0M568.3 468.9h0M573.3 468.5h0M575.0 468.4h0M577.9 471.5h0M583.3 471.3h0M590.4 470.1h0M535.0 473.2h0M537.6 472.4h0M546.7 474.2h0M547.6 474.5h0M552.1 471.3h0M557.6 471.7h0M562.3 473.4h0M567.5 472.1h0M568.6 472.0h0M572.5 472.2h0M576.5 472.2h0M580.8 472.6h0M586.9 472.0h0M531.4 474.8h0M534.7 475.7h0M535.5 477.2h0M539.2 477.4h0M544.6 477.6h0M547.4 475.7h0M551.0 474.8h0M555.1 475.7h0M559.4 475.8h0M561.9 476.0h0M564.7 475.0h0M568.7 476.0h0M573.3 475.3h0M525.1 480.0h0M529.4 479.1h0M532.8 480.7h0M534.0 478.4h0M540.3 477.5h0M543.6 478.1h0M547.3 479.5h0M550.5 479.0h0M552.8 477.4h0M554.6 477.9h0M558.5 477.6h0M561.9 477.9h0M565.2 478.8h0M527.7 483.3h0M531.1 483.0h0M533.6 482.9h0M538.2 481.7h0M539.0 482.8h0M546.7 482.0h0M550.5 483.8h0M555.9 483.6h0M558.8 481.3h0M562.6 482.3h0M564.5 483.7h0M525.4 484.2h0M529.7 484.3h0M530.1 484.1h0M534.0 483.8h0M541.6 486.4h0M546.9 486.4h0M549.0 483.9h0M554.1 485.3h0M554.6 483.7h0M558.0 484.7h0M563.5 484.7h0M524.5 487.3h0M528.1 489.7h0M530.4 489.7h0M531.8 487.7h0M536.7 487.2h0M540.8 487.4h0M543.9 489.6h0M547.2 489.8h0M553.7 487.7h0M557.3 487.9h0M560.5 487.4h0M564.1 488.3h0M522.3 489.8h0M523.5 491.9h0M531.7 491.1h0M533.7 491.9h0M538.7 491.3h0M543.4 492.6h0M546.9 492.2h0M549.7 490.4h0M551.5 489.7h0M554.6 491.7h0M561.3 491.7h0M561.4 491.2h0M565.5 490.3h0M533.4 494.2h0M537.9 494.4h0M540.3 495.7h0M542.2 495.0h0M548.8 494.8h0M550.2 493.4h0M555.8 495.3h0M556.1 493.6h0M561.9 495.2h0M565.3 493.6h0M530.1 498.7h0M540.3 496.1h0M541.8 497.3h0M550.7 496.6h0M553.6 498.4h0M556.7 495.8h0M557.9 497.4h0M564.4 497.7h0M565.3 496.3h0M537.7 499.2h0M540.9 500.6h0M559.0 499.1h0M560.2 500.1h0M566.0 498.6h0M526.4 478.0h0M524.1 481.3h0M523.9 484.9h0M519.0 490.2h0M521.4 491.6h0M522.8 496.6h0M527.9 498.3h0M531.5 501.3h0M536.0 501.7h0M540.5 502.4h0M544.3 497.8h0M548.4 499.0h0M554.0 498.4h0M556.9 500.4h0M561.1 499.7h0M566.4 500.5h0M566.9 496.5h0M565.7 490.9h0M565.2 486.9h0M563.0 484.5h0M566.5 479.0h0M571.9 479.6h0M577.9 476.5h0M580.0 476.1h0M584.3 473.0h0M586.6 472.4h0M590.3 468.5h0M589.1 466.4h0M585.4 464.9h0M577.7 463.2h0M572.0 464.9h0M568.1 464.8h0M565.7 463.5h0M555.1 467.3h0M550.8 468.2h0M549.6 470.5h0M543.4 471.1h0M542.6 471.7h0M535.0 472.0h0M531.3 472.9h0M527.3 477.4h0M495.9 479.0h0M498.2 478.7h0M494.8 484.0h0M498.4 480.7h0M491.2 485.8h0M495.8 486.1h0M491.7 489.7h0M497.6 491.5h0M492.2 495.9h0M493.3 496.6h0M487.4 500.7h0M493.1 496.7h0M495.7 497.8h0M484.4 504.9h0M488.8 502.7h0M494.5 501.4h0M501.1 501.0h0M503.1 500.8h0M509.3 502.1h0M516.7 503.4h0M477.9 507.9h0M482.4 504.9h0M489.9 507.7h0M493.2 508.2h0M503.5 506.5h0M506.9 506.0h0M513.2 505.2h0M514.9 508.4h0M522.1 505.3h0M478.1 508.8h0M479.5 510.9h0M484.0 510.8h0M489.5 510.2h0M493.8 509.7h0M506.0 513.0h0M507.8 511.4h0M514.4 512.0h0M518.0 510.3h0M521.1 511.7h0M475.8 516.8h0M476.5 516.9h0M484.3 514.9h0M488.7 516.1h0M494.8 515.8h0M499.5 514.6h0M504.9 515.4h0M515.7 514.4h0M519.2 513.1h0M526.6 517.0h0M477.4 518.7h0M486.5 520.8h0M490.6 518.8h0M494.0 516.9h0M499.0 517.2h0M506.1 517.0h0M507.0 520.4h0M512.7 516.9h0M520.0 519.0h0M522.5 517.9h0M481.0 524.6h0M484.4 524.4h0M486.3 523.5h0M490.8 523.2h0M502.6 521.6h0M508.1 522.0h0M509.4 523.6h0M513.8 521.4h0M521.7 523.5h0M486.3 528.4h0M504.1 526.1h0M510.0 526.7h0M514.5 526.8h0M517.2 525.6h0M484.6 530.5h0M490.2 531.0h0M491.0 532.0h0M504.2 529.0h0M506.6 532.1h0M510.8 530.5h0M517.9 531.3h0M519.5 530.0h0M482.7 534.3h0M487.7 533.8h0M491.6 535.6h0M496.9 535.5h0M497.7 536.1h0M502.3 535.4h0M510.8 533.2h0M515.4 535.0h0M520.6 533.7h0M522.4 535.0h0M487.4 541.0h0M498.4 538.2h0M503.4 539.2h0M505.8 538.9h0M509.1 537.6h0M516.7 537.8h0M520.9 538.4h0M492.0 545.6h0M495.9 542.8h0M499.0 545.3h0M505.8 542.8h0M509.5 542.0h0M516.0 542.7h0M518.1 543.2h0M521.6 544.0h0M489.5 545.6h0M492.9 546.4h0M496.0 546.0h0M506.2 546.9h0M512.3 545.5h0M520.5 545.1h0M492.1 479.0h0M490.2 481.0h0M490.9 491.4h0M487.6 494.4h0M482.7 499.5h0M480.8 500.5h0M477.9 505.4h0M479.1 508.2h0M474.6 514.3h0M475.5 519.6h0M478.7 527.2h0M481.3 529.9h0M480.0 536.7h0M486.8 544.6h0M486.3 545.1h0M491.6 546.0h0M494.0 546.6h0M497.4 547.4h0M503.8 547.6h0M506.1 548.0h0M510.6 546.4h0M519.6 548.7h0M520.9 542.5h0M522.8 541.0h0M522.8 535.8h0M524.5 531.9h0M525.7 523.9h0M527.2 521.4h0M529.3 513.7h0M527.7 512.6h0M525.5 508.6h0M518.5 501.5h0M516.5 499.4h0M509.2 501.8h0M510.0 503.5h0M501.5 498.0h0M497.6 487.5h0M500.1 484.5h0M499.8 481.7h0M492.9 475.8h0M439.2 438.3h0M463.3 467.5h0M471.7 466.7h0M485.8 474.2h0M504.2 480.0h0M518.3 475.0h0M516.7 494.2h0M513.3 483.3h0M531.7 434.2h0M544.2 439.5h0M550.0 453.3h0M540.8 456.7h0M568.3 486.7h0M558.3 486.7h0M533.3 511.7h0M525.0 528.3h0M605.4 403.9h0M616.7 405.0h0M623.9 404.0h0M601.8 407.1h0M604.6 405.9h0M610.8 405.9h0M616.5 407.0h0M626.8 408.6h0M603.8 416.4h0M612.5 417.1h0M615.9 415.3h0M595.2 418.8h0M601.4 422.2h0M607.4 423.5h0M614.2 423.1h0M620.6 418.3h0M627.1 420.0h0M598.7 425.6h0M601.2 423.9h0M611.7 423.8h0M616.5 424.0h0M624.1 427.0h0M576.0 433.8h0M584.9 431.5h0M591.5 430.9h0M599.9 432.8h0M605.0 435.1h0M613.4 435.6h0M618.7 434.2h0M625.8 434.3h0M576.6 439.1h0M581.4 437.6h0M588.8 436.9h0M597.2 439.6h0M603.2 436.8h0M610.6 436.8h0M619.5 436.4h0M625.4 436.8h0M570.7 446.8h0M579.6 446.0h0M585.7 441.7h0M595.2 444.4h0M598.1 447.3h0M607.9 446.6h0M614.4 444.5h0M620.9 443.9h0M626.9 443.9h0M576.8 453.9h0M578.3 447.9h0M589.7 449.0h0M593.2 452.7h0M601.2 448.4h0M607.9 449.3h0M613.9 450.4h0M622.0 447.7h0M579.2 458.3h0M587.9 457.8h0M601.5 457.0h0M608.3 459.8h0M614.2 454.8h0M620.5 459.6h0M626.1 456.5h0M589.8 464.6h0M604.2 460.9h0M618.4 463.2h0M624.5 463.6h0M598.5 468.5h0M567.5 437.4h0M568.8 445.7h0M579.5 460.4h0M584.7 464.5h0M609.0 467.4h0M626.4 457.1h0M629.0 439.4h0M627.2 428.8h0M627.2 416.3h0M629.0 405.8h0M616.8 401.5h0M591.4 419.9h0M585.2 432.0h0M582.0 429.8h0M551.2 513.0h0M555.6 514.8h0M557.7 514.3h0M482.9 504.4h0M490.8 502.4h0M502.2 502.2h0M479.1 508.3h0M491.4 506.1h0M496.3 506.8h0M500.0 504.9h0M508.8 508.0h0M511.0 508.8h0M520.1 508.5h0M484.0 510.9h0M491.4 511.5h0M500.4 512.7h0M505.4 509.2h0M507.2 510.1h0M513.1 509.5h0M518.7 510.9h0M474.8 519.2h0M477.5 518.1h0M483.5 515.2h0M491.4 514.2h0M495.3 518.0h0M500.9 517.2h0M509.9 517.5h0M461.2 521.7h0M469.0 519.8h0M476.6 519.9h0M479.5 522.3h0M486.4 522.7h0M495.1 522.7h0M499.8 523.9h0M502.3 522.2h0M507.7 520.4h0M515.9 521.3h0M522.2 519.4h0M438.9 528.7h0M443.3 527.3h0M450.4 527.0h0M456.1 523.8h0M462.9 523.9h0M468.6 523.8h0M471.1 526.8h0M478.2 527.5h0M483.2 526.3h0M488.1 524.2h0M495.8 525.4h0M498.5 526.4h0M506.6 527.0h0M513.0 525.0h0M518.7 528.6h0M436.2 531.0h0M443.8 530.3h0M453.2 533.4h0M468.5 529.7h0M480.9 533.3h0M487.8 530.3h0M489.9 529.5h0M497.5 529.4h0M501.6 531.3h0M509.8 532.9h0M515.8 528.3h0M520.7 532.6h0M436.6 537.2h0M438.1 533.4h0M443.9 537.1h0M449.3 535.4h0M458.6 536.7h0M464.8 533.7h0M469.5 537.4h0M473.8 538.4h0M479.2 535.7h0M482.7 537.6h0M491.3 534.8h0M494.0 535.1h0M499.2 535.3h0M509.2 537.2h0M518.5 537.6h0M438.1 541.4h0M442.3 537.9h0M447.0 542.9h0M454.6 538.2h0M461.4 542.2h0M465.3 540.8h0M471.9 540.7h0M474.7 539.8h0M489.7 540.1h0M492.9 538.7h0M495.9 538.6h0M503.1 541.2h0M506.7 539.5h0M512.0 539.9h0M520.5 542.7h0M433.4 544.3h0M441.7 547.8h0M451.0 545.1h0M454.8 543.3h0M462.5 544.7h0M468.5 546.1h0M473.7 544.5h0M484.9 545.0h0M489.7 546.3h0M495.4 545.2h0M500.8 543.0h0M504.9 546.9h0M512.8 547.1h0M432.2 548.7h0M442.1 548.9h0M448.5 552.2h0M453.7 548.6h0M461.4 552.5h0M462.6 549.7h0M473.0 552.5h0M476.1 549.8h0M481.7 552.5h0M489.3 551.3h0M492.8 552.2h0M495.4 548.0h0M503.1 552.3h0M510.0 552.1h0M516.0 548.8h0M426.8 552.3h0M436.9 552.7h0M449.2 556.4h0M455.7 553.1h0M463.3 557.0h0M470.5 553.9h0M477.6 557.3h0M484.9 555.2h0M491.4 554.0h0M497.4 554.9h0M501.2 556.1h0M506.1 554.2h0M514.7 554.7h0M434.3 558.2h0M435.1 560.2h0M440.6 559.5h0M448.7 557.6h0M452.0 558.6h0M460.8 559.2h0M462.4 557.4h0M469.9 562.2h0M474.1 560.0h0M479.2 560.9h0M489.2 556.9h0M494.9 557.6h0M500.0 562.1h0M503.6 557.6h0M511.4 558.7h0M515.9 558.6h0M433.8 564.8h0M437.5 566.1h0M451.7 566.7h0M453.9 561.9h0M459.9 564.5h0M468.3 566.8h0M471.7 567.2h0M480.8 564.9h0M484.9 565.3h0M487.4 563.3h0M497.5 561.8h0M499.5 563.0h0M430.3 568.0h0M441.8 569.2h0M449.0 567.3h0M452.7 567.0h0M458.1 570.2h0M464.3 569.3h0M470.9 569.1h0M480.3 570.7h0M489.1 570.2h0M491.1 568.0h0M496.0 568.1h0M501.2 570.6h0M432.1 572.6h0M438.3 572.6h0M443.9 572.3h0M451.1 574.2h0M456.0 575.9h0M464.2 574.9h0M467.0 572.9h0M472.3 575.1h0M476.2 573.3h0M481.7 572.9h0M491.5 571.7h0M492.7 571.6h0M439.8 579.1h0M440.8 576.1h0M447.6 580.8h0M454.4 580.2h0M459.4 577.9h0M464.8 578.6h0M469.2 578.5h0M475.5 581.1h0M479.5 581.5h0M489.1 577.4h0M490.6 578.3h0M498.3 576.9h0M437.9 582.2h0M445.3 585.0h0M458.3 581.9h0M463.6 581.8h0M468.6 585.0h0M472.6 582.1h0M478.1 583.0h0M482.4 585.1h0M491.5 580.9h0M436.9 586.0h0M452.4 590.5h0M459.1 587.9h0M462.8 589.4h0M468.7 589.3h0M474.5 586.1h0M480.0 588.3h0M489.7 586.9h0M464.6 591.8h0M468.7 592.5h0M437.0 530.8h0M433.1 537.0h0M428.3 546.7h0M426.4 554.0h0M459.9 593.2h0M467.6 593.1h0M470.6 592.0h0M486.5 590.4h0M489.4 587.9h0M500.3 571.6h0M507.0 561.7h0M516.0 558.6h0M517.9 557.7h0M517.9 547.2h0M522.2 541.5h0M520.8 537.8h0M522.0 529.7h0M523.0 516.4h0M525.1 512.6h0M520.8 506.2h0M503.6 500.8h0M495.8 500.7h0M481.5 503.4h0M478.7 510.0h0M474.0 517.1h0M472.0 517.4h0M461.6 520.4h0M460.8 521.2h0M453.3 522.5h0M441.0 526.2h0M508.7 574.0h0M532.7 512.7h0M425.3 552.0h0M211.0 506.2h0M211.9 509.3h0M213.6 508.2h0M208.7 512.3h0M213.5 510.6h0M216.2 511.1h0M219.8 510.9h0M185.7 513.6h0M188.7 515.2h0M192.5 514.7h0M208.3 514.5h0M210.1 514.0h0M213.7 514.4h0M219.0 513.8h0M219.7 512.7h0M181.8 517.0h0M183.8 518.0h0M195.5 518.0h0M210.6 517.0h0M213.3 515.5h0M216.9 516.0h0M220.2 518.1h0M222.1 515.2h0M225.5 515.3h0M230.5 516.8h0M232.7 516.6h0M235.7 518.2h0M179.4 520.0h0M182.9 520.0h0M184.4 519.6h0M196.1 520.7h0M199.0 518.5h0M206.2 520.3h0M209.3 519.6h0M215.5 519.3h0M217.8 518.0h0M220.3 518.4h0M223.1 520.1h0M229.8 518.4h0M233.1 521.4h0M236.3 520.0h0M249.8 521.1h0M177.9 522.7h0M181.6 521.3h0M183.4 524.4h0M186.3 522.7h0M195.5 521.4h0M198.1 522.5h0M200.9 523.0h0M205.9 521.9h0M208.4 521.1h0M211.1 521.0h0M216.2 524.2h0M219.4 522.0h0M221.6 521.7h0M226.1 523.3h0M231.0 523.0h0M233.0 521.3h0M235.3 523.6h0M239.6 521.7h0M245.4 524.1h0M246.5 522.9h0M252.6 522.8h0M253.0 522.4h0M170.1 526.6h0M171.7 526.5h0M176.3 524.5h0M180.4 526.3h0M184.1 524.8h0M185.6 525.6h0M198.1 525.8h0M201.8 525.9h0M203.2 524.1h0M207.4 524.2h0M212.4 524.5h0M217.5 526.4h0M220.7 524.3h0M224.3 525.1h0M227.4 526.0h0M231.7 524.1h0M236.7 525.4h0M237.4 526.7h0M243.8 526.6h0M246.5 526.4h0M248.8 527.2h0M252.8 526.9h0M254.6 524.9h0M166.0 528.0h0M170.2 530.2h0M174.2 529.8h0M176.3 530.3h0M187.0 530.3h0M199.9 529.1h0M202.3 529.2h0M203.9 529.1h0M209.7 529.2h0M212.3 529.0h0M218.4 529.3h0M223.6 527.3h0M224.7 527.4h0M228.2 530.1h0M232.0 530.3h0M237.5 529.5h0M241.7 527.9h0M242.8 530.4h0M248.0 527.5h0M251.1 528.6h0M255.5 530.0h0M257.2 529.6h0M259.6 527.8h0M265.8 528.9h0M166.7 530.1h0M169.0 530.5h0M172.3 531.7h0M174.1 532.3h0M179.7 530.7h0M184.7 531.3h0M190.5 530.1h0M194.4 532.4h0M195.5 532.9h0M198.5 531.2h0M205.3 531.7h0M208.7 530.9h0M211.2 532.8h0M212.6 530.5h0M216.5 532.0h0M226.0 531.7h0M226.5 530.4h0M230.4 532.0h0M234.9 532.4h0M237.7 530.7h0M243.3 533.1h0M245.7 533.1h0M247.7 532.7h0M253.5 532.4h0M256.4 533.3h0M258.3 532.0h0M263.8 530.1h0M266.8 532.5h0M270.3 530.9h0M166.8 536.0h0M170.1 534.8h0M174.2 534.0h0M176.6 533.6h0M180.4 535.9h0M183.8 535.8h0M188.8 534.4h0M190.8 536.3h0M194.2 533.5h0M197.6 533.4h0M202.0 535.3h0M206.5 534.8h0M210.0 534.4h0M211.2 533.3h0M215.6 536.4h0M221.5 536.4h0M225.7 533.5h0M230.8 534.9h0M234.6 533.1h0M247.2 534.1h0M252.3 535.1h0M254.6 534.0h0M257.7 533.2h0M262.1 535.1h0M266.2 533.1h0M267.4 534.9h0M168.5 538.6h0M175.1 538.0h0M177.4 536.9h0M181.5 537.7h0M185.0 536.4h0M191.0 539.2h0M194.4 536.1h0M195.0 539.6h0M198.9 538.3h0M203.5 537.2h0M207.1 539.4h0M211.9 539.4h0M213.8 539.6h0M217.4 538.0h0M221.4 537.2h0M226.0 536.4h0M228.5 537.8h0M232.2 537.0h0M234.2 537.8h0M243.8 539.5h0M245.0 538.0h0M248.0 537.8h0M256.0 538.4h0M260.2 536.2h0M168.2 542.1h0M176.4 541.5h0M181.2 541.4h0M182.8 540.2h0M186.3 542.0h0M190.3 541.0h0M198.0 539.5h0M204.9 539.6h0M208.5 541.0h0M213.5 542.0h0M216.4 540.5h0M221.8 540.6h0M227.5 541.4h0M230.5 540.3h0M232.7 540.3h0M238.5 539.2h0M241.1 541.9h0M242.9 541.5h0M248.7 541.3h0M249.9 540.7h0M255.9 540.8h0M257.3 540.9h0M172.6 543.4h0M174.8 545.4h0M180.1 545.5h0M182.0 542.5h0M187.7 543.2h0M192.0 543.5h0M202.5 542.3h0M210.0 545.4h0M215.8 543.4h0M217.7 543.5h0M226.3 543.8h0M228.2 545.1h0M231.7 544.3h0M235.1 543.9h0M241.7 544.4h0M244.3 543.6h0M250.2 544.5h0M251.4 544.4h0M256.5 542.9h0M167.7 548.2h0M171.4 545.6h0M172.5 548.5h0M184.0 547.4h0M189.2 547.1h0M191.2 546.6h0M194.1 546.5h0M197.3 547.9h0M201.0 547.5h0M208.1 546.1h0M211.6 546.0h0M219.3 545.8h0M223.9 545.9h0M225.8 547.7h0M231.0 547.5h0M235.7 545.7h0M240.4 548.3h0M243.5 546.6h0M248.1 545.4h0M167.5 550.6h0M171.7 549.5h0M175.9 551.5h0M179.5 551.1h0M186.4 551.2h0M190.0 550.3h0M192.3 549.0h0M196.7 549.4h0M199.2 548.2h0M211.1 550.2h0M212.7 549.0h0M218.9 548.6h0M222.2 550.0h0M223.4 551.5h0M229.3 548.7h0M230.3 550.1h0M234.7 549.7h0M238.0 549.3h0M164.5 553.0h0M166.2 552.4h0M170.6 554.0h0M174.2 553.2h0M176.4 553.4h0M185.9 554.3h0M188.7 551.5h0M191.7 554.1h0M193.6 552.3h0M199.1 551.9h0M201.1 553.0h0M209.4 553.8h0M212.0 553.1h0M214.2 552.8h0M219.4 553.5h0M223.8 553.5h0M225.8 552.6h0M228.9 551.9h0M233.7 551.6h0M236.6 551.6h0M162.1 557.2h0M166.7 557.0h0M168.9 554.4h0M173.0 557.0h0M176.0 557.1h0M179.5 556.0h0M184.1 557.3h0M186.5 556.7h0M188.6 555.3h0M192.2 557.0h0M195.0 555.7h0M199.4 554.4h0M203.2 556.2h0M206.4 555.5h0M209.5 554.8h0M218.7 557.5h0M219.4 555.5h0M226.0 556.0h0M229.8 556.6h0M165.9 558.9h0M171.7 559.7h0M173.4 558.8h0M177.1 559.7h0M182.1 559.0h0M185.1 558.3h0M188.7 557.9h0M194.9 558.4h0M203.1 557.5h0M206.3 560.1h0M207.8 560.7h0M214.0 558.6h0M215.5 558.6h0M222.7 558.1h0M226.8 557.4h0M228.6 558.2h0M172.8 560.4h0M175.6 562.7h0M177.7 562.6h0M181.8 562.0h0M185.9 561.8h0M191.3 563.6h0M192.2 560.5h0M195.2 561.2h0M201.6 562.2h0M204.1 560.8h0M206.9 561.0h0M212.2 561.3h0M181.5 563.7h0M183.4 563.9h0M186.6 563.5h0M189.7 564.8h0M194.8 566.2h0M197.7 564.8h0M202.7 564.5h0M206.7 565.1h0M207.6 565.8h0M164.2 526.8h0M166.0 532.9h0M167.0 536.5h0M164.4 538.7h0M165.9 543.2h0M164.9 549.4h0M163.8 550.7h0M158.3 556.3h0M162.7 558.1h0M164.6 559.5h0M169.4 564.1h0M173.7 561.7h0M176.8 563.7h0M178.9 566.7h0M185.7 566.7h0M190.6 568.1h0M191.5 566.9h0M197.6 565.7h0M201.5 566.1h0M208.8 567.4h0M213.1 563.9h0M219.9 560.7h0M228.4 560.8h0M228.6 557.4h0M233.6 556.0h0M237.8 551.7h0M246.6 547.4h0M250.2 547.4h0M256.1 545.4h0M259.7 542.6h0M261.2 541.0h0M265.5 536.5h0M270.5 533.8h0M272.1 532.2h0M273.9 533.0h0M273.5 530.6h0M267.8 530.1h0M265.7 529.4h0M260.8 528.5h0M253.5 521.6h0M249.3 521.5h0M248.2 523.0h0M244.8 522.8h0M240.7 519.9h0M235.3 518.0h0M228.5 515.2h0M226.1 514.6h0M222.8 511.7h0M219.0 510.9h0M216.4 508.3h0M211.1 506.1h0M209.8 507.6h0M209.6 509.4h0M205.1 513.4h0M203.9 518.6h0M201.6 517.8h0M196.8 516.4h0M193.5 511.7h0M191.3 511.8h0M186.0 510.5h0M184.4 514.4h0M178.2 514.5h0M177.7 518.0h0M175.8 523.0h0M173.7 523.5h0M167.4 526.2h0M149.7 542.0h0M156.3 544.7h0M151.0 551.3h0M152.3 555.3h0M161.0 534.0h0M167.0 519.3h0M284.3 530.0h0M243.0 510.0h0M247.0 508.7h0M216.3 566.0h0M221.7 566.0h0M227.0 568.7h0M217.7 572.7h0M221.7 576.7h0M228.3 578.0h0M236.3 563.3h0M239.0 569.3h0M234.3 573.3h0M230.3 506.8h0M233.9 504.3h0M237.5 503.0h0M240.8 499.9h0M244.2 498.0h0M249.0 498.1h0M251.6 494.4h0M254.3 492.2h0M257.5 488.7h0M259.9 489.4h0M260.7 492.8h0M254.0 488.0h0M258.0 486.0h0M261.0 491.0h0M257.0 494.0h0M251.0 497.0h0M247.0 499.0h0M244.0 505.0h0M870.3 368.0h0M918.5 375.3h0M947.8 379.6h0M960.7 379.0h0M967.2 372.0h0M961.0 367.0h0M962.0 365.5h0M891.0 427.5h0M893.8 433.3h0M917.6 535.6h0M915.7 537.6h0M914.6 540.0h0M913.8 541.4h0M911.8 543.0h0M910.2 545.1h0M908.2 545.9h0M906.6 547.4h0M906.1 549.5h0M904.9 551.4h0M902.9 553.3h0M902.7 555.7h0M901.2 557.6h0M899.9 559.6h0M899.2 561.2h0M897.9 563.5h0M897.0 565.4h0M896.1 567.5h0M895.9 569.5h0M895.3 572.3h0M894.4 574.5h0M894.6 577.1h0M895.9 578.4h0M895.9 581.2h0M895.8 582.9h0M919.0 536.3h0M917.3 539.3h0M916.1 541.2h0M914.6 543.0h0M912.5 545.1h0M911.1 546.9h0M909.4 548.5h0M907.2 550.2h0M905.6 551.9h0M911.0 553.0h0M914.3 560.0h0M912.3 580.0h0M707.8 579.8h0M709.0 580.8h0M712.1 583.5h0M770.5 586.7h0M773.0 588.5h0M777.1 586.6h0M779.5 587.1h0M714.3 588.7h0M717.1 589.2h0M719.0 590.9h0M767.7 590.5h0M772.6 591.3h0M773.4 590.0h0M778.3 591.0h0M721.8 593.0h0M727.4 593.6h0M730.7 591.5h0M733.0 593.5h0M737.9 591.7h0M740.2 592.8h0M744.1 593.9h0M744.5 591.7h0M759.0 593.9h0M761.7 591.4h0M767.1 592.4h0M770.8 593.6h0M772.4 592.8h0M775.2 591.2h0M778.1 592.1h0M723.7 593.9h0M725.9 595.7h0M732.0 596.2h0M739.6 595.4h0M740.8 594.4h0M744.0 596.1h0M750.2 595.4h0M757.0 595.6h0M762.6 594.6h0M766.7 593.6h0M768.1 593.6h0M769.9 596.1h0M772.8 595.2h0M776.0 595.4h0M728.4 596.7h0M731.4 596.2h0M733.3 598.2h0M736.6 596.3h0M739.4 596.1h0M743.0 598.2h0M745.1 596.5h0M749.0 596.5h0M750.9 597.7h0M756.1 596.4h0M758.2 597.7h0M760.3 597.5h0M765.1 599.0h0M767.2 596.3h0M770.9 596.8h0M773.6 598.7h0M775.2 597.0h0M739.2 600.4h0M740.7 599.0h0M743.2 601.6h0M747.8 599.2h0M750.6 599.2h0M754.2 599.2h0M756.0 600.7h0M758.2 600.7h0M763.4 600.0h0M764.4 599.6h0M768.7 599.0h0M771.5 600.3h0M741.3 601.4h0M742.5 603.0h0M746.0 603.8h0M747.5 604.0h0M754.6 601.3h0M703.0 576.7h0M705.4 578.0h0M709.5 584.9h0M717.0 592.8h0M726.0 595.5h0M730.4 598.5h0M732.2 600.0h0M737.0 602.9h0M740.1 604.6h0M743.1 604.2h0M751.0 603.9h0M758.1 601.9h0M762.6 602.1h0M765.8 600.5h0M770.2 601.5h0M777.8 595.6h0M777.8 593.5h0M781.7 592.0h0M781.9 584.4h0M785.7 582.0h0M779.7 587.7h0M778.1 587.2h0M774.4 584.8h0M770.4 584.0h0M761.9 592.9h0M760.5 590.9h0M752.9 593.0h0M751.0 595.0h0M745.6 595.9h0M746.0 591.5h0M743.1 589.6h0M736.9 592.6h0M732.5 593.6h0M728.9 591.7h0M724.6 593.4h0M722.4 593.1h0M720.0 589.8h0M716.2 586.9h0M715.4 584.2h0M705.4 575.4h0M736.6 537.4h0M740.3 538.1h0M736.9 538.8h0M741.6 539.4h0M743.5 540.0h0M743.1 542.9h0M744.1 546.1h0M745.6 544.7h0M745.6 546.3h0M748.0 548.1h0M739.3 551.1h0M741.5 551.4h0M742.8 550.0h0M747.7 549.9h0M749.3 549.6h0M734.9 552.8h0M738.0 554.0h0M740.9 553.1h0M741.1 553.6h0M744.5 552.1h0M749.0 552.5h0M752.0 551.1h0M732.8 554.2h0M736.4 553.6h0M738.3 555.4h0M743.4 555.9h0M745.9 556.3h0M749.9 554.1h0M754.0 555.0h0M738.2 556.6h0M742.9 558.0h0M738.5 541.0h0M740.1 541.1h0M742.2 546.4h0M740.1 548.2h0M737.6 551.6h0M734.1 551.2h0M729.4 553.9h0M732.5 558.9h0M730.9 563.0h0M728.1 565.0h0M733.0 562.9h0M733.0 557.8h0M737.1 555.3h0M741.1 556.4h0M742.5 559.2h0M743.8 558.1h0M749.1 556.9h0M753.2 555.8h0M752.8 552.1h0M752.1 549.6h0M749.5 548.1h0M748.2 543.0h0M744.2 539.7h0M738.5 537.1h0M719.3 528.7h0M726.9 539.0h0M726.9 545.5h0M724.8 557.6h0M723.9 561.2h0M723.9 563.1h0M737.2 570.9h0M743.6 569.0h0M747.3 565.6h0M747.3 573.6h0M754.2 571.3h0M756.0 570.4h0M756.0 562.2h0M758.3 561.7h0M762.7 573.6h0M771.1 578.2h0M758.0 583.7h0M743.4 582.3h0M725.6 576.8h0M715.2 580.0h0M785.8 565.8h0M785.8 568.6h0M784.4 581.4h0M1000.0 624.3h0M984.8 630.3h0M999.5 627.9h0M1006.1 625.7h0M1010.5 629.1h0M1022.8 630.6h0M983.5 632.0h0M994.4 632.4h0M999.7 635.3h0M1000.3 630.4h0M1006.3 630.6h0M1013.0 635.9h0M1025.4 634.8h0M1033.2 635.6h0M971.0 636.1h0M976.7 639.6h0M987.9 636.2h0M995.7 636.4h0M1000.5 636.6h0M1005.1 640.9h0M1010.0 640.0h0M1016.2 638.0h0M1021.4 639.8h0M1029.1 639.4h0M1031.7 637.3h0M969.0 643.0h0M978.0 642.0h0M985.2 641.9h0M993.1 642.2h0M995.3 643.1h0M1006.3 642.4h0M1015.7 640.8h0M1027.2 642.8h0M1029.4 640.3h0M1035.3 645.3h0M1051.5 645.5h0M963.8 649.5h0M970.9 648.6h0M976.2 650.3h0M985.4 646.4h0M991.7 649.5h0M994.5 650.1h0M997.9 648.8h0M1010.5 645.9h0M1017.5 650.3h0M1020.2 646.1h0M1030.7 645.2h0M1032.3 650.0h0M1039.4 650.2h0M1050.2 650.4h0M960.6 652.5h0M970.8 653.1h0M976.3 651.7h0M981.3 655.3h0M983.6 650.4h0M996.0 652.9h0M1002.7 650.6h0M1009.1 655.3h0M1016.7 650.8h0M1021.8 650.7h0M1023.6 652.3h0M1037.2 650.8h0M1044.9 655.1h0M1050.0 653.2h0M1054.4 650.5h0M956.1 659.0h0M961.1 658.3h0M967.5 655.1h0M977.9 660.0h0M980.5 657.8h0M990.9 656.9h0M996.8 656.3h0M1007.7 657.2h0M1009.9 657.9h0M1017.0 657.7h0M1026.4 658.6h0M1032.9 660.2h0M1038.1 658.3h0M1045.1 659.6h0M1050.5 658.6h0M953.5 664.1h0M958.0 662.4h0M964.7 662.5h0M967.3 660.5h0M973.3 660.8h0M978.8 661.8h0M984.6 662.4h0M994.4 664.8h0M997.5 663.7h0M1001.1 662.5h0M1010.4 664.0h0M1015.6 661.2h0M1021.9 662.7h0M1024.6 663.8h0M1032.0 665.4h0M1035.7 661.9h0M1040.4 661.4h0M1050.1 661.0h0M1052.6 661.3h0M957.4 666.5h0M960.3 665.2h0M974.6 670.1h0M984.3 669.8h0M989.6 666.0h0M994.9 669.3h0M1002.9 669.6h0M1011.6 669.2h0M1025.7 665.7h0M1026.3 665.3h0M1034.6 665.8h0M1039.5 668.4h0M947.3 674.9h0M952.0 674.2h0M959.2 671.7h0M960.9 671.7h0M966.4 671.5h0M972.5 669.9h0M981.1 671.9h0M988.4 672.9h0M990.6 673.3h0M997.9 672.2h0M1001.3 670.7h0M1011.4 673.5h0M1014.9 671.4h0M1020.4 671.6h0M1027.2 672.5h0M1028.8 672.5h0M1035.8 670.8h0M941.8 677.9h0M949.8 677.1h0M957.7 676.0h0M961.1 677.1h0M968.8 678.6h0M970.7 675.1h0M975.3 678.7h0M980.9 675.1h0M990.3 679.7h0M991.9 676.8h0M999.1 675.9h0M1008.2 675.2h0M1010.1 676.5h0M1016.8 678.7h0M1021.3 675.3h0M1027.0 674.7h0M1032.3 675.8h0M1039.9 678.3h0M940.7 679.9h0M945.7 682.5h0M950.1 684.5h0M958.3 681.9h0M964.0 683.8h0M966.6 683.1h0M973.7 682.7h0M978.5 685.2h0M984.3 682.5h0M994.4 682.0h0M998.2 681.7h0M1004.0 683.8h0M1011.1 682.5h0M1016.7 679.6h0M1018.8 681.2h0M1024.8 683.9h0M1031.6 682.3h0M1039.8 681.2h0M1040.5 681.5h0M943.9 684.9h0M950.4 684.7h0M952.6 689.0h0M958.4 689.7h0M967.6 686.4h0M972.4 688.1h0M975.8 689.5h0M982.4 689.8h0M986.7 684.9h0M993.5 689.7h0M997.5 688.1h0M1003.2 690.0h0M1009.1 689.7h0M1017.6 687.0h0M1025.3 689.7h0M1028.5 685.4h0M1038.7 686.8h0M947.6 694.3h0M953.0 693.0h0M956.9 692.6h0M962.5 693.8h0M969.5 693.9h0M975.8 695.0h0M986.2 694.7h0M993.5 693.7h0M997.6 693.4h0M1001.8 689.8h0M1007.7 694.9h0M1014.5 692.7h0M1022.9 691.1h0M1027.8 689.5h0M1030.1 692.4h0M1039.8 694.0h0M941.5 695.4h0M946.8 699.2h0M957.4 696.4h0M961.7 695.4h0M964.8 696.0h0M974.4 699.6h0M977.4 694.5h0M987.9 698.5h0M996.0 699.9h0M1003.0 695.8h0M1007.4 694.7h0M1012.4 699.2h0M1019.2 699.8h0M1025.0 698.9h0M1026.6 697.3h0M1035.7 698.6h0M945.0 703.9h0M953.8 702.4h0M958.8 702.1h0M960.8 701.0h0M970.1 700.2h0M976.8 702.4h0M987.6 703.6h0M994.9 701.8h0M1005.6 702.4h0M1008.8 699.4h0M1015.7 702.9h0M1020.3 702.1h0M1024.8 701.2h0M1030.9 702.8h0M1036.0 703.1h0M952.0 709.7h0M957.1 707.9h0M962.4 709.3h0M968.5 708.7h0M972.6 708.2h0M977.6 705.3h0M983.5 706.9h0M989.2 709.4h0M995.1 706.6h0M997.9 706.1h0M1003.7 706.6h0M1008.9 708.1h0M1019.8 706.9h0M1023.1 707.0h0M1030.7 706.9h0M1036.9 709.1h0M1037.9 706.6h0M947.6 711.4h0M950.3 711.4h0M959.1 714.4h0M965.8 710.4h0M966.6 710.3h0M975.0 711.9h0M978.2 713.0h0M988.5 710.9h0M997.6 709.5h0M1003.9 711.4h0M1007.8 711.7h0M1016.1 709.8h0M1018.5 714.0h0M1028.4 710.8h0M1032.8 714.1h0M1038.1 710.9h0M939.7 717.9h0M945.4 717.3h0M947.6 716.5h0M954.4 716.6h0M958.6 718.8h0M968.3 714.0h0M975.2 714.6h0M980.7 715.7h0M986.3 714.9h0M997.0 717.0h0M1002.1 717.3h0M1013.3 717.7h0M1018.3 718.7h0M1024.6 715.9h0M1030.2 714.1h0M936.2 721.5h0M944.8 722.5h0M949.4 720.4h0M957.7 723.4h0M961.5 720.3h0M967.4 720.8h0M973.9 722.3h0M987.6 723.2h0M993.1 722.8h0M998.4 720.3h0M1004.5 721.5h0M1010.0 722.3h0M1012.6 724.5h0M1017.7 720.3h0M1024.3 722.2h0M1030.7 724.5h0M933.2 724.1h0M935.0 724.9h0M942.6 727.2h0M948.5 724.9h0M952.1 724.7h0M960.7 729.0h0M966.2 724.9h0M974.4 728.2h0M974.8 728.7h0M981.8 727.3h0M990.2 726.7h0M1000.7 726.6h0M1004.2 726.8h0M1012.1 726.9h0M1016.0 728.8h0M1022.6 727.2h0M1026.3 726.3h0M914.8 733.5h0M921.2 733.5h0M934.3 729.4h0M941.8 730.4h0M944.4 734.2h0M949.7 731.1h0M955.9 732.7h0M966.0 731.6h0M973.6 731.4h0M982.5 733.3h0M987.9 732.7h0M990.8 734.0h0M1000.8 729.2h0M1008.0 733.4h0M1016.5 733.7h0M1018.7 732.7h0M1026.2 730.5h0M916.0 734.0h0M923.6 735.9h0M929.3 738.7h0M929.6 735.8h0M937.0 734.8h0M942.7 738.8h0M949.5 734.4h0M955.4 737.9h0M958.9 734.5h0M964.4 737.1h0M973.8 737.0h0M979.1 734.0h0M985.0 738.2h0M991.0 736.3h0M995.4 738.3h0M1002.1 734.3h0M1005.0 736.8h0M1010.3 738.8h0M1016.9 734.5h0M1025.7 735.6h0M918.0 740.1h0M921.4 742.9h0M926.7 742.6h0M933.9 739.2h0M938.7 742.7h0M954.4 741.9h0M958.3 743.5h0M967.4 744.1h0M972.7 740.2h0M982.1 740.2h0M985.3 744.1h0M991.2 743.7h0M1004.6 741.2h0M1008.8 742.5h0M1014.5 743.5h0M1018.7 741.7h0M1026.0 738.8h0M925.6 748.3h0M933.3 745.3h0M939.4 746.1h0M942.3 747.7h0M947.4 746.2h0M954.6 744.0h0M960.4 749.0h0M968.3 746.3h0M974.5 744.8h0M978.5 744.2h0M994.2 748.6h0M999.9 748.4h0M1003.9 747.7h0M1013.4 745.8h0M1015.2 744.9h0M1021.6 744.5h0M926.3 750.0h0M929.7 750.0h0M936.1 748.9h0M939.0 748.5h0M948.2 752.8h0M954.3 751.5h0M957.0 753.1h0M964.1 750.9h0M967.3 750.3h0M973.4 753.4h0M982.4 753.6h0M986.6 751.5h0M994.3 751.4h0M997.2 750.9h0M1002.2 752.7h0M1009.6 753.2h0M1015.3 751.6h0M1018.9 751.6h0M920.6 756.1h0M924.8 757.6h0M931.3 757.8h0M945.5 753.6h0M948.1 754.2h0M957.2 756.9h0M957.7 756.8h0M967.4 753.4h0M970.7 753.3h0M974.7 757.7h0M985.7 756.0h0M988.7 755.4h0M995.4 756.6h0M999.3 757.0h0M1009.7 754.6h0M919.0 762.3h0M922.0 759.9h0M928.2 761.1h0M934.3 760.7h0M943.2 759.1h0M947.5 759.6h0M960.1 762.0h0M962.6 760.3h0M977.1 758.6h0M981.4 763.1h0M987.1 762.7h0M994.6 761.8h0M1001.7 762.2h0M1008.6 760.1h0M1012.8 759.8h0M1017.8 761.3h0M920.2 765.5h0M926.0 765.3h0M933.1 763.6h0M939.7 768.1h0M945.7 767.1h0M946.6 768.0h0M954.4 764.6h0M960.4 763.8h0M966.8 763.8h0M974.7 767.4h0M975.3 768.1h0M980.4 768.2h0M991.4 764.1h0M994.2 768.0h0M999.4 764.2h0M1006.3 767.5h0M1010.3 768.2h0M916.4 769.5h0M924.2 769.8h0M927.1 770.5h0M934.0 773.1h0M939.7 771.7h0M945.9 771.5h0M952.3 772.9h0M959.9 772.1h0M967.5 772.9h0M972.2 771.3h0M989.5 770.6h0M998.2 770.0h0M1005.0 772.4h0M920.6 773.7h0M925.7 773.2h0M932.5 776.0h0M938.7 777.9h0M942.6 775.1h0M954.1 775.4h0M959.7 775.8h0M967.3 775.0h0M973.7 774.2h0M978.1 777.5h0M985.5 774.5h0M987.6 775.5h0M953.6 659.9h0M952.8 664.0h0M947.9 669.0h0M948.5 670.0h0M938.0 676.5h0M933.4 679.7h0M940.3 690.2h0M942.6 697.6h0M943.8 706.6h0M943.2 712.2h0M938.0 718.7h0M933.8 720.7h0M919.6 746.0h0M919.3 756.0h0M913.1 774.1h0M919.9 776.9h0M930.2 779.8h0M938.6 777.8h0M962.6 777.3h0M986.9 776.1h0M1001.8 772.0h0M1007.1 771.8h0M1012.8 769.9h0M1016.4 763.6h0M1019.3 759.2h0M1024.6 743.7h0M1028.0 740.5h0M1031.1 739.3h0M1030.9 729.4h0M1036.2 717.2h0M1039.3 709.3h0M1041.3 690.3h0M1041.2 686.6h0M1044.4 673.8h0M1046.8 667.6h0M1052.2 665.0h0M1053.0 651.8h0M1054.1 646.3h0M1047.9 644.5h0M1036.6 642.2h0M1032.3 631.8h0M1028.4 629.1h0M1021.0 629.1h0M1009.6 627.4h0M1000.6 624.6h0M989.5 626.1h0M982.7 632.1h0M977.8 631.5h0M972.0 634.5h0M967.3 643.1h0M963.9 643.1h0M960.1 648.9h0M979.8 639.2h0M1007.1 635.7h0M976.8 643.6h0M988.5 642.5h0M1003.0 641.8h0M1009.5 645.1h0M1018.4 645.6h0M1030.1 647.3h0M965.9 654.8h0M976.0 655.5h0M986.0 652.9h0M991.4 651.3h0M1000.8 653.6h0M1012.2 656.6h0M1031.1 654.9h0M1041.2 654.7h0M968.2 665.7h0M979.8 664.5h0M997.5 660.2h0M1003.3 665.8h0M1021.9 662.9h0M1031.8 657.5h0M958.7 671.4h0M961.2 670.5h0M975.3 673.5h0M982.6 665.9h0M992.5 671.1h0M1004.5 666.1h0M1016.2 666.2h0M1018.2 666.3h0M1029.3 674.0h0M961.4 677.6h0M973.5 673.7h0M976.2 674.4h0M985.0 682.6h0M998.2 674.2h0M1005.2 677.5h0M1018.1 678.9h0M1025.4 677.4h0M1032.6 681.4h0M969.2 684.7h0M978.0 682.2h0M997.4 689.1h0M1005.8 687.6h0M1015.1 686.3h0M1019.1 686.0h0M1027.9 688.7h0M963.1 693.4h0M989.3 694.5h0M1009.6 698.9h0M1014.5 697.8h0M1026.9 693.6h0M967.0 703.7h0M977.6 698.7h0M983.4 701.2h0M997.5 697.7h0M1005.7 698.7h0M1015.5 704.4h0M1023.9 702.0h0M1030.3 700.2h0M964.0 715.0h0M988.5 713.9h0M1001.2 713.1h0M1016.5 712.8h0M950.9 719.7h0M960.9 722.9h0M967.9 717.8h0M977.9 721.9h0M982.2 715.2h0M997.2 718.8h0M999.9 717.0h0M1012.9 717.0h0M1024.9 717.2h0M949.3 731.2h0M968.6 722.5h0M981.8 726.1h0M988.9 730.9h0M1001.4 723.1h0M1009.9 727.5h0M959.3 731.6h0M969.8 731.2h0M971.2 739.3h0M998.1 736.2h0M1007.1 735.3h0M1013.2 734.4h0M953.5 741.0h0M965.5 739.8h0M967.8 745.3h0M979.9 744.6h0M989.6 738.4h0M997.8 738.4h0M1011.5 743.0h0M951.5 747.2h0M958.1 750.9h0M968.1 753.8h0M979.4 750.2h0M979.8 747.4h0M991.9 746.5h0M1006.5 746.4h0M948.7 758.8h0M965.1 758.2h0M967.7 758.8h0M983.5 754.9h0M989.4 755.1h0M963.3 654.3h0M959.9 659.5h0M956.6 691.7h0M956.2 706.6h0M951.8 716.5h0M946.3 729.3h0M943.3 746.2h0M952.8 761.1h0M962.6 765.3h0M981.9 762.1h0M1012.7 746.3h0M1025.5 718.8h0M1032.0 707.5h0M1031.9 701.3h0M1037.2 691.7h0M1037.5 681.9h0M1037.7 670.5h0M1039.3 651.6h0M1032.6 646.6h0M990.8 630.0h0M973.4 642.8h0M901.6 693.2h0M902.4 697.5h0M904.3 696.6h0M899.2 698.0h0M902.1 699.3h0M907.9 701.0h0M902.7 703.1h0M903.4 704.5h0M908.3 704.0h0M902.9 706.2h0M906.4 706.2h0M910.3 707.0h0M902.7 710.1h0M906.7 713.3h0M908.1 714.1h0M901.0 705.3h0M906.4 713.8h0M906.0 715.9h0M914.5 712.2h0M914.9 712.3h0M915.6 707.3h0M912.4 705.2h0M908.4 698.9h0M903.5 693.3h0M899.8 693.4h0M898.6 698.1h0M925.6 654.3h0M925.9 704.2h0M1061.0 674.1h0M1055.0 698.2h0M1055.4 716.9h0M1043.9 722.4h0M1044.7 711.3h0M1034.4 754.1h0M1009.0 774.4h0M1054.2 679.7h0M727.3 719.3h0M732.7 719.1h0M749.3 790.7h0M753.3 792.7h0M748.0 796.7h0M750.7 789.3h0M805.0 778.1h0M807.8 778.0h0M804.6 781.7h0M806.7 779.9h0M799.3 783.0h0M802.7 783.0h0M808.0 784.0h0M797.3 785.0h0M802.7 787.3h0M805.6 786.6h0M804.8 788.9h0M808.0 787.6h0M807.0 790.0h0M804.0 776.9h0M800.1 781.5h0M797.2 783.3h0M797.9 784.2h0M801.1 788.2h0M804.0 789.1h0M807.1 791.7h0M807.1 789.4h0M809.0 786.1h0M808.1 779.3h0M810.9 776.4h0M343.6 759.6h0M348.2 759.1h0M359.1 757.1h0M361.7 756.4h0M339.4 759.8h0M342.9 760.0h0M348.7 762.6h0M353.1 763.0h0M360.2 760.8h0M368.2 763.3h0M375.1 760.0h0M336.1 766.9h0M341.4 765.5h0M344.5 766.2h0M349.6 765.6h0M354.9 763.6h0M360.0 766.0h0M363.0 763.7h0M366.3 763.5h0M372.4 763.9h0M376.9 764.7h0M380.4 763.2h0M328.8 767.3h0M331.7 767.6h0M334.8 767.6h0M338.6 767.2h0M342.4 769.1h0M349.7 769.7h0M351.0 770.0h0M355.3 769.4h0M362.8 768.8h0M365.4 770.3h0M367.5 770.0h0M372.8 768.1h0M375.9 767.3h0M380.2 767.8h0M325.4 773.0h0M331.4 771.9h0M332.5 772.2h0M342.3 770.6h0M346.0 771.3h0M351.3 772.8h0M354.5 770.8h0M358.4 772.1h0M362.6 771.7h0M369.9 771.2h0M374.4 773.1h0M379.8 773.2h0M385.4 773.9h0M387.7 772.5h0M323.4 776.2h0M329.4 774.6h0M331.1 774.2h0M335.8 776.3h0M340.2 778.1h0M344.2 776.6h0M348.3 777.8h0M353.0 774.3h0M355.7 776.4h0M359.5 777.8h0M364.0 776.5h0M368.5 776.7h0M374.4 774.3h0M376.8 777.9h0M384.0 776.8h0M386.8 778.0h0M389.1 774.4h0M317.1 780.8h0M323.2 778.6h0M325.8 777.9h0M329.3 779.1h0M335.5 779.3h0M339.6 779.7h0M342.0 778.9h0M345.3 778.9h0M349.4 779.2h0M356.7 780.1h0M362.8 780.6h0M366.5 781.6h0M370.1 779.2h0M375.8 778.4h0M381.1 778.2h0M385.9 780.1h0M386.3 778.5h0M392.1 780.9h0M397.8 781.8h0M308.5 784.8h0M310.5 781.7h0M315.9 783.7h0M319.0 781.4h0M324.6 785.1h0M329.1 784.5h0M331.9 782.8h0M338.0 785.0h0M341.8 785.4h0M346.1 782.5h0M348.2 782.7h0M353.0 785.4h0M358.4 783.0h0M360.7 784.2h0M365.2 784.8h0M369.5 785.5h0M382.2 784.9h0M385.0 784.9h0M391.8 784.8h0M394.2 783.5h0M310.1 785.4h0M311.8 786.3h0M315.4 785.3h0M321.3 788.1h0M329.7 788.5h0M334.9 786.8h0M336.1 788.8h0M340.6 788.6h0M347.9 787.6h0M351.0 787.2h0M364.5 789.0h0M366.8 788.9h0M381.6 787.3h0M384.3 786.9h0M388.2 788.2h0M393.8 788.9h0M394.8 786.9h0M307.2 789.2h0M310.7 790.0h0M314.5 791.3h0M319.5 791.7h0M322.5 788.9h0M325.9 792.2h0M331.6 790.2h0M335.6 790.8h0M340.3 791.3h0M347.5 791.3h0M353.0 789.8h0M358.0 791.3h0M360.5 790.2h0M365.7 790.5h0M371.2 792.7h0M384.8 788.7h0M390.2 789.6h0M396.6 792.8h0M397.4 789.9h0M307.7 795.8h0M313.2 792.6h0M315.3 792.9h0M322.5 794.1h0M324.3 792.7h0M330.3 794.2h0M333.4 794.0h0M338.2 793.1h0M341.2 792.5h0M345.1 793.2h0M352.4 794.6h0M353.3 796.3h0M360.4 792.8h0M363.5 794.3h0M368.0 793.8h0M371.5 796.4h0M374.0 794.2h0M380.9 794.4h0M383.6 795.0h0M388.4 794.6h0M390.6 795.1h0M395.6 795.4h0M311.3 798.2h0M315.2 798.4h0M319.8 798.9h0M332.2 799.0h0M334.9 798.0h0M341.7 798.1h0M345.0 797.8h0M350.4 798.7h0M358.1 798.8h0M362.3 797.7h0M365.2 796.2h0M371.4 799.4h0M372.2 796.3h0M378.3 797.7h0M383.9 799.9h0M387.5 797.7h0M392.0 799.3h0M393.0 799.2h0M308.5 799.8h0M313.2 803.5h0M316.2 799.8h0M321.3 801.4h0M328.8 803.6h0M335.6 801.4h0M338.3 801.7h0M344.0 800.7h0M347.3 803.2h0M352.5 800.6h0M355.0 803.3h0M360.4 801.9h0M363.7 801.0h0M373.0 802.7h0M377.4 800.5h0M378.2 799.8h0M383.0 801.4h0M389.3 800.4h0M393.7 803.0h0M394.8 802.2h0M306.1 803.6h0M310.2 803.9h0M315.3 804.2h0M319.1 804.8h0M326.9 805.9h0M330.1 806.3h0M335.3 804.7h0M338.9 805.1h0M344.1 805.3h0M354.4 803.4h0M357.0 803.7h0M362.1 805.0h0M368.2 805.4h0M373.9 805.7h0M379.4 806.9h0M381.1 803.8h0M384.8 804.8h0M390.3 804.7h0M393.2 803.2h0M398.4 807.0h0M299.4 807.7h0M305.4 809.7h0M308.8 810.4h0M318.1 809.3h0M322.0 807.1h0M325.6 808.2h0M328.4 808.6h0M334.1 807.9h0M336.9 809.2h0M344.0 809.1h0M348.0 809.4h0M351.0 810.2h0M354.8 807.7h0M358.6 810.2h0M363.4 808.0h0M369.2 807.6h0M373.0 808.5h0M376.3 810.7h0M378.0 807.2h0M382.1 808.8h0M389.5 810.7h0M392.1 810.8h0M396.8 807.4h0M297.8 810.6h0M302.6 810.8h0M308.2 814.1h0M314.1 811.3h0M317.5 811.3h0M322.2 812.7h0M326.6 813.6h0M333.0 810.7h0M336.4 810.9h0M344.6 810.6h0M349.1 812.4h0M352.0 812.8h0M358.1 813.1h0M360.5 810.5h0M367.2 813.3h0M367.5 813.2h0M379.6 814.4h0M380.7 811.6h0M384.9 811.3h0M390.4 811.4h0M394.5 814.5h0M294.9 815.6h0M306.6 815.2h0M313.7 818.1h0M315.9 814.9h0M320.4 815.5h0M326.7 815.3h0M329.2 814.2h0M332.4 817.1h0M338.0 816.1h0M348.9 814.5h0M355.3 815.0h0M360.8 816.2h0M369.2 816.5h0M371.2 817.2h0M374.4 816.0h0M378.0 817.6h0M385.8 817.3h0M389.6 817.7h0M396.8 814.6h0M399.4 817.7h0M294.9 820.8h0M299.6 818.5h0M300.3 820.3h0M307.0 821.2h0M312.6 819.5h0M314.7 821.8h0M318.3 818.1h0M321.7 820.2h0M328.2 819.6h0M332.4 820.0h0M337.8 819.0h0M338.9 818.2h0M343.4 821.0h0M348.7 821.3h0M354.3 820.6h0M357.2 819.5h0M363.1 818.5h0M365.7 821.4h0M369.7 817.8h0M375.0 818.4h0M377.8 818.3h0M381.7 819.0h0M384.9 820.0h0M392.3 819.8h0M395.4 821.2h0M400.3 820.1h0M401.8 818.8h0M292.9 823.9h0M299.0 825.2h0M309.8 821.9h0M310.8 825.5h0M316.7 823.4h0M321.7 824.7h0M326.1 824.9h0M328.1 822.2h0M332.3 822.8h0M337.9 823.0h0M343.7 823.5h0M346.5 821.4h0M352.6 824.7h0M353.9 824.3h0M359.5 824.4h0M361.9 823.2h0M368.3 822.6h0M370.1 823.0h0M377.6 824.2h0M380.0 822.6h0M385.8 822.9h0M386.4 824.8h0M391.7 823.1h0M397.5 825.2h0M399.7 824.4h0M404.4 823.1h0M408.1 823.6h0M294.6 826.2h0M297.4 828.5h0M304.3 825.1h0M306.4 827.0h0M310.7 827.0h0M313.1 829.2h0M318.1 827.6h0M324.8 825.5h0M328.6 826.1h0M332.6 826.6h0M334.9 827.7h0M340.5 827.9h0M345.3 828.1h0M348.5 827.4h0M351.6 828.0h0M355.5 825.7h0M362.7 826.0h0M367.3 826.5h0M368.2 826.0h0M375.2 827.4h0M379.7 825.3h0M381.7 828.2h0M384.6 825.6h0M388.7 826.8h0M396.0 829.0h0M400.8 826.0h0M404.9 827.0h0M406.1 827.8h0M413.5 828.1h0M300.8 829.5h0M304.1 830.7h0M309.4 829.2h0M314.3 831.5h0M316.9 829.4h0M320.7 831.9h0M324.1 830.2h0M330.2 831.1h0M338.1 832.5h0M344.2 832.6h0M345.6 830.7h0M351.4 828.9h0M354.5 831.5h0M359.1 832.5h0M363.6 831.2h0M368.0 831.9h0M371.9 832.6h0M376.3 830.8h0M378.1 829.6h0M382.4 831.6h0M387.4 830.5h0M391.5 829.7h0M395.2 830.5h0M399.5 830.7h0M405.4 829.3h0M410.1 832.0h0M294.6 835.5h0M296.4 834.2h0M300.5 832.7h0M305.8 834.3h0M311.5 835.0h0M316.2 836.2h0M319.5 835.0h0M324.6 835.0h0M326.0 833.2h0M336.0 834.1h0M338.4 833.9h0M342.5 835.9h0M348.2 836.5h0M356.2 834.3h0M362.0 835.0h0M364.2 835.9h0M369.2 834.1h0M372.8 834.4h0M379.3 834.1h0M382.9 832.8h0M385.3 835.8h0M392.0 834.1h0M394.5 832.3h0M402.8 835.8h0M409.3 835.2h0M411.1 832.6h0M295.8 837.0h0M299.2 837.7h0M303.7 836.0h0M307.3 837.2h0M311.5 836.4h0M324.4 837.8h0M328.8 839.4h0M339.1 837.7h0M340.8 839.7h0M344.8 836.0h0M349.5 840.0h0M360.7 840.1h0M361.9 837.0h0M368.1 836.5h0M373.6 837.0h0M374.6 838.0h0M380.6 836.6h0M382.1 837.9h0M387.7 838.2h0M391.5 838.4h0M397.0 838.3h0M399.1 839.7h0M295.8 843.4h0M298.2 843.7h0M304.0 843.7h0M304.4 841.6h0M312.7 841.4h0M313.6 841.6h0M324.4 842.5h0M337.5 840.1h0M341.9 841.5h0M343.5 843.5h0M350.3 842.4h0M350.7 841.2h0M357.6 842.2h0M360.8 841.1h0M364.2 842.9h0M369.4 842.7h0M378.4 840.4h0M387.2 840.4h0M300.7 844.8h0M302.9 846.1h0M311.5 847.3h0M316.7 845.4h0M320.1 845.1h0M326.2 843.7h0M333.1 846.8h0M338.0 846.2h0M342.7 844.0h0M347.8 845.2h0M348.5 846.2h0M360.9 843.5h0M362.7 843.7h0M367.7 847.4h0M370.1 843.9h0M377.7 843.3h0M380.1 845.8h0M385.7 843.2h0M387.8 844.6h0M299.6 848.4h0M301.1 847.8h0M305.7 849.1h0M309.9 850.3h0M316.2 849.4h0M319.1 850.7h0M323.3 848.6h0M325.5 848.4h0M332.3 850.0h0M337.1 849.3h0M340.3 848.1h0M344.1 848.7h0M348.2 848.5h0M352.0 847.3h0M356.3 848.0h0M359.2 849.9h0M365.2 847.5h0M368.2 849.1h0M374.4 848.7h0M376.0 848.7h0M383.8 850.0h0M384.8 849.4h0M390.2 848.3h0M301.5 851.5h0M303.0 851.4h0M308.1 853.1h0M312.8 851.8h0M316.8 852.3h0M320.1 854.2h0M326.5 851.1h0M330.7 851.0h0M332.2 850.8h0M340.0 851.3h0M340.3 853.8h0M347.6 851.9h0M352.4 854.0h0M355.6 853.5h0M357.7 851.4h0M364.6 853.1h0M368.0 853.1h0M371.1 852.5h0M377.5 851.6h0M380.5 853.8h0M382.8 850.9h0M387.4 853.6h0M312.2 854.9h0M315.9 854.9h0M320.2 854.9h0M322.4 857.5h0M333.4 856.1h0M334.7 855.7h0M339.2 858.0h0M343.2 858.1h0M349.8 857.2h0M351.9 856.4h0M355.8 856.4h0M362.1 857.6h0M363.3 855.1h0M370.2 858.3h0M375.4 854.3h0M380.0 856.3h0M385.9 857.0h0M388.5 857.7h0M331.1 858.5h0M332.8 860.4h0M336.8 859.9h0M344.0 858.8h0M344.9 859.9h0M350.2 857.8h0M353.9 859.0h0M358.5 860.6h0M371.1 858.2h0M377.0 859.5h0M379.6 861.7h0M384.0 859.5h0M392.3 859.6h0M343.0 862.4h0M349.3 863.4h0M352.6 863.9h0M360.0 862.7h0M367.4 862.9h0M374.1 864.4h0M376.5 863.5h0M380.8 863.3h0M384.4 864.7h0M394.4 864.5h0M368.3 866.2h0M375.9 867.1h0M381.2 866.5h0M383.1 865.3h0M386.4 867.0h0M375.1 869.0h0M378.0 869.1h0M387.4 868.8h0M389.2 870.2h0M305.8 782.5h0M307.9 787.1h0M305.4 797.1h0M305.4 802.5h0M303.5 801.0h0M297.5 809.2h0M293.9 815.3h0M295.3 815.3h0M290.9 822.5h0M290.1 825.5h0M290.3 830.0h0M293.1 833.3h0M293.4 838.4h0M293.8 839.5h0M295.8 844.6h0M297.2 848.2h0M299.1 849.9h0M304.0 853.7h0M304.8 856.3h0M310.9 858.2h0M317.4 856.8h0M318.8 858.9h0M322.1 860.5h0M326.0 862.4h0M330.8 862.9h0M335.3 864.6h0M343.5 866.0h0M348.8 866.2h0M352.7 863.4h0M358.0 863.6h0M361.8 865.6h0M362.0 866.8h0M370.6 872.5h0M369.2 872.2h0M377.4 872.2h0M381.9 869.6h0M386.9 871.3h0M388.4 872.1h0M390.3 871.4h0M394.8 861.6h0M394.2 857.3h0M389.8 852.0h0M392.6 847.9h0M390.7 847.4h0M394.6 843.0h0M397.2 842.3h0M409.4 833.7h0M413.7 830.3h0M413.8 826.6h0M414.3 826.4h0M410.0 822.7h0M407.4 822.1h0M398.4 813.4h0M396.7 813.2h0M399.4 806.3h0M400.1 802.6h0M400.5 799.2h0M400.1 798.2h0M400.1 791.6h0M397.4 782.1h0M395.4 778.8h0M391.4 778.4h0M389.6 771.9h0M388.1 770.7h0M383.3 765.8h0M381.3 766.1h0M378.3 761.0h0M376.5 759.6h0M366.8 755.8h0M363.6 755.3h0M360.1 754.7h0M354.0 758.7h0M349.4 756.8h0M347.8 759.6h0M341.3 758.8h0M339.8 760.3h0M337.5 759.8h0M331.4 762.0h0M328.9 765.9h0M328.4 768.6h0M326.0 770.4h0M322.5 773.1h0M316.1 778.6h0M348.3 725.1h0M340.1 727.7h0M348.6 724.7h0M356.3 730.2h0M330.8 732.9h0M335.4 731.9h0M346.7 733.2h0M351.7 733.9h0M356.3 734.7h0M361.6 735.6h0M378.2 732.9h0M379.7 734.3h0M386.8 736.3h0M334.3 736.5h0M340.5 738.0h0M348.7 736.2h0M355.3 735.5h0M358.5 735.9h0M367.4 737.3h0M373.3 739.3h0M382.2 738.4h0M383.4 736.0h0M327.6 742.0h0M329.6 744.6h0M343.8 743.1h0M348.2 746.3h0M359.6 746.8h0M363.9 745.8h0M369.8 744.5h0M377.3 746.2h0M329.5 750.2h0M333.4 751.2h0M340.0 747.7h0M348.8 753.0h0M355.8 747.6h0M361.0 748.4h0M364.5 749.7h0M373.8 752.7h0M379.4 750.5h0M325.3 756.8h0M331.0 753.9h0M338.5 755.5h0M350.8 755.0h0M323.0 760.5h0M325.5 762.1h0M311.4 774.8h0M320.1 764.3h0M333.2 757.4h0M340.7 754.8h0M349.0 756.6h0M362.6 751.9h0M382.0 758.9h0M384.4 757.1h0M388.4 738.9h0M387.4 738.2h0M369.4 731.5h0M362.8 728.7h0M357.0 728.8h0M338.2 722.8h0M333.9 726.7h0M323.3 745.2h0M397.9 771.8h0M303.6 802.5h0M409.3 823.5h0M416.5 823.1h0M406.6 827.1h0M412.8 825.0h0M415.1 824.8h0M419.6 825.5h0M401.2 830.5h0M405.0 827.8h0M409.3 830.3h0M416.8 829.7h0M425.2 828.0h0M426.5 829.6h0M429.8 830.3h0M402.3 832.3h0M405.9 832.2h0M409.6 832.3h0M412.0 831.0h0M416.7 834.0h0M427.0 831.0h0M429.6 834.5h0M433.1 832.1h0M398.2 835.3h0M403.9 834.6h0M408.4 834.8h0M410.5 835.5h0M415.3 835.2h0M417.4 835.8h0M423.7 837.3h0M429.1 836.2h0M432.4 837.7h0M436.9 838.1h0M401.6 838.5h0M405.1 837.6h0M411.1 840.0h0M418.5 839.8h0M422.4 837.9h0M424.4 840.9h0M434.8 838.0h0M437.7 840.7h0M441.9 841.1h0M445.2 841.3h0M402.7 845.1h0M408.4 841.7h0M413.9 841.2h0M421.0 845.0h0M423.0 844.7h0M427.3 843.8h0M432.0 844.6h0M437.4 844.2h0M441.2 842.2h0M444.6 845.2h0M448.6 845.1h0M453.3 844.4h0M426.2 845.1h0M430.7 846.9h0M433.4 848.3h0M442.5 845.1h0M446.9 848.4h0M454.7 847.8h0M457.2 849.0h0M433.2 850.3h0M439.4 851.8h0M442.5 850.2h0M450.3 852.0h0M453.1 848.7h0M459.4 851.9h0M437.0 854.5h0M444.9 852.2h0M452.4 854.2h0M456.0 855.2h0M458.9 855.4h0M434.4 858.2h0M441.6 859.5h0M445.5 859.2h0M447.8 859.1h0M458.6 856.1h0M463.5 857.5h0M435.6 863.4h0M440.1 861.0h0M440.6 862.6h0M448.5 862.2h0M451.5 860.2h0M453.9 861.4h0M467.4 860.1h0M473.4 862.9h0M437.0 864.5h0M440.6 864.9h0M444.6 865.1h0M448.8 863.3h0M452.7 866.0h0M457.3 867.1h0M461.0 865.5h0M469.2 864.8h0M474.5 865.6h0M479.3 865.5h0M449.8 866.9h0M455.5 868.1h0M460.5 867.2h0M470.2 867.8h0M477.7 870.8h0M481.7 868.9h0M482.7 869.0h0M487.4 869.9h0M481.7 874.2h0M485.7 871.7h0M488.7 872.8h0M496.3 872.7h0M499.4 874.1h0M487.8 873.9h0M494.7 874.9h0M495.1 877.5h0M500.1 874.3h0M496.3 878.5h0M498.8 880.4h0M505.1 878.5h0M507.6 878.8h0M397.2 838.7h0M398.6 842.5h0M400.4 846.2h0M404.9 846.0h0M410.8 844.2h0M414.8 844.0h0M419.0 843.4h0M419.7 846.7h0M423.2 847.0h0M429.7 849.4h0M431.0 853.0h0M432.8 857.2h0M435.4 860.0h0M433.3 865.5h0M433.9 864.7h0M439.8 866.3h0M448.3 868.1h0M453.6 868.5h0M452.9 868.0h0M461.6 867.5h0M468.2 865.9h0M471.9 869.2h0M478.7 870.9h0M477.5 872.5h0M481.8 874.0h0M484.9 878.3h0M491.7 877.9h0M495.6 881.3h0M500.8 881.9h0M503.7 882.7h0M506.3 879.1h0M510.0 879.1h0M505.3 875.6h0M503.2 875.5h0M499.6 874.3h0M495.4 870.4h0M491.3 871.8h0M484.6 870.2h0M481.2 868.0h0M479.6 861.9h0M475.4 862.8h0M470.9 858.5h0M465.9 853.6h0M462.7 851.1h0M458.6 850.4h0M455.1 847.9h0M454.6 845.3h0M453.0 843.2h0M440.2 838.7h0M440.9 835.3h0M436.8 833.6h0M433.2 833.3h0M429.4 830.2h0M427.6 827.4h0M420.3 824.1h0M413.7 820.5h0M407.6 821.3h0M408.4 823.9h0M405.1 823.4h0M401.5 829.0h0M398.0 831.7h0M413.0 812.7h0M429.2 820.2h0M435.8 831.5h0M454.2 840.8h0M467.2 849.5h0M473.7 852.8h0M408.7 860.3h0M415.2 853.8h0M421.7 860.3h0M426.0 854.9h0M498.6 887.4h0M398.9 765.0h0M359.9 722.1h0M389.2 734.7h0M376.2 728.2h0M343.7 719.5h0M388.1 733.6h0M390.2 736.8h0M607.3 651.0h0M610.1 649.3h0M612.9 650.0h0M604.7 654.5h0M608.9 654.2h0M611.4 651.9h0M619.0 653.1h0M620.4 652.4h0M624.8 653.5h0M601.6 657.9h0M609.6 655.9h0M615.0 656.3h0M619.8 656.5h0M622.8 656.3h0M601.3 660.3h0M605.0 661.5h0M610.3 662.4h0M610.7 661.9h0M615.5 660.1h0M624.2 660.9h0M600.5 664.9h0M604.6 666.3h0M608.8 662.9h0M614.2 666.3h0M625.0 662.3h0M630.7 664.7h0M600.1 670.0h0M604.7 666.2h0M607.8 668.9h0M612.1 669.1h0M623.3 666.3h0M623.8 669.3h0M631.1 666.3h0M634.9 667.2h0M602.8 671.2h0M604.7 672.5h0M611.0 674.1h0M616.9 674.1h0M618.3 674.1h0M623.9 673.4h0M629.9 672.0h0M632.3 673.9h0M636.3 670.6h0M642.6 674.2h0M598.4 676.6h0M604.3 673.7h0M612.7 674.8h0M615.1 675.4h0M622.5 676.9h0M626.1 675.1h0M630.2 674.5h0M632.8 674.2h0M638.4 676.5h0M644.6 677.6h0M597.6 678.4h0M602.2 679.4h0M605.5 680.9h0M608.7 678.4h0M615.3 679.3h0M620.1 678.9h0M623.4 678.1h0M627.7 679.0h0M633.6 677.8h0M635.9 680.7h0M644.4 680.1h0M605.3 683.8h0M606.4 682.2h0M611.5 685.1h0M618.1 682.1h0M621.5 685.2h0M629.1 682.5h0M637.1 685.6h0M642.4 684.1h0M606.0 685.8h0M613.0 687.4h0M621.5 689.1h0M626.0 687.9h0M626.7 686.3h0M634.3 689.2h0M637.5 685.6h0M640.7 687.8h0M643.9 687.3h0M653.4 687.4h0M599.1 690.4h0M605.6 692.3h0M608.9 691.0h0M622.3 691.9h0M628.5 693.1h0M632.7 692.8h0M639.6 689.0h0M643.7 692.2h0M652.9 689.8h0M603.0 694.4h0M604.2 696.4h0M609.8 695.6h0M621.4 693.3h0M624.9 694.6h0M626.6 696.9h0M635.4 694.6h0M648.8 694.9h0M610.1 697.7h0M613.8 699.6h0M617.6 699.0h0M620.5 697.8h0M624.4 700.4h0M628.6 697.9h0M635.2 698.2h0M611.1 702.0h0M616.0 704.4h0M626.5 702.5h0M631.2 703.1h0M614.2 707.2h0M613.8 710.4h0M602.3 653.3h0M601.2 658.7h0M597.9 660.3h0M597.4 665.6h0M599.7 671.5h0M598.4 674.3h0M598.4 678.5h0M594.0 682.9h0M594.9 685.8h0M599.2 691.9h0M603.6 696.0h0M605.2 699.2h0M607.6 700.7h0M613.1 707.1h0M610.1 707.5h0M617.3 703.3h0M618.8 702.6h0M624.4 704.3h0M629.0 702.0h0M631.0 704.7h0M634.9 699.5h0M636.6 699.3h0M640.4 695.1h0M645.4 693.6h0M650.2 694.9h0M654.3 694.6h0M657.5 686.8h0M653.7 685.2h0M647.9 679.1h0M648.8 677.4h0M642.2 673.9h0M641.2 668.4h0M643.5 668.6h0M638.7 664.6h0M635.5 664.2h0M631.2 666.0h0M629.7 662.2h0M628.1 660.6h0M625.9 656.4h0M622.6 651.8h0M622.3 650.0h0M610.0 648.0h0M606.8 645.9h0M604.8 646.0h0M600.4 712.0h0M597.9 713.7h0M596.6 715.4h0M595.4 718.8h0M594.1 721.0h0M593.0 723.4h0M592.0 724.9h0M591.1 728.1h0M591.0 729.7h0M589.5 731.8h0M587.4 735.3h0M586.2 736.7h0M585.2 738.9h0M584.9 742.0h0M582.7 744.1h0M582.0 746.2h0M581.0 748.9h0M655.2 708.7h0M659.3 709.1h0M660.9 709.8h0M665.4 711.0h0M667.3 709.3h0M669.9 706.8h0M672.0 705.8h0M674.6 708.5h0M676.0 710.8h0M676.6 713.6h0M675.6 716.1h0M674.8 718.7h0M674.5 722.4h0M676.2 724.2h0M676.3 727.9h0M677.5 731.2h0M679.2 733.7h0M678.6 736.2h0M671.0 710.8h0M668.5 713.1h0M665.7 709.5h0M668.5 714.1h0M672.4 715.2h0M672.4 710.8h0M666.5 709.9h0M666.8 696.5h0M668.5 703.5h0M659.2 700.0h0M646.3 706.4h0M631.8 710.5h0M660.1 720.8h0M634.7 658.0h0M648.7 658.6h0M645.2 663.2h0M597.3 691.6h0M611.3 707.0h0M563.3 763.9h0M547.7 765.4h0M555.3 764.9h0M559.3 766.1h0M564.5 767.0h0M547.8 769.2h0M549.2 768.4h0M553.7 770.8h0M559.3 769.2h0M561.2 769.7h0M565.7 768.5h0M566.4 769.5h0M545.8 774.1h0M548.7 771.5h0M552.6 771.0h0M554.2 771.7h0M560.9 773.0h0M564.0 773.7h0M566.2 772.5h0M568.5 772.2h0M553.5 774.4h0M558.0 774.9h0M561.1 776.4h0M565.3 777.2h0M569.5 776.6h0M572.8 776.6h0M550.6 779.0h0M551.7 779.7h0M556.6 777.5h0M557.8 779.5h0M565.4 780.0h0M570.1 778.9h0M572.1 778.4h0M555.5 780.8h0M557.7 781.4h0M560.7 781.2h0M564.8 781.3h0M545.6 770.3h0M546.2 772.9h0M549.6 779.7h0M552.6 780.1h0M555.3 782.2h0M560.8 783.2h0M567.4 780.4h0M573.8 775.9h0M570.7 775.4h0M566.3 767.2h0M564.7 765.4h0M558.2 765.7h0M555.7 763.2h0M552.3 763.3h0M548.4 765.3h0M551.9 792.5h0M552.5 791.2h0M578.1 765.9h0M595.0 776.2h0M605.0 777.8h0M610.0 783.8h0M611.9 785.0h0M610.0 788.8h0M611.2 841.2h0M606.2 846.2h0M720.9 823.3h0M724.2 823.9h0M726.0 824.8h0M717.0 828.4h0M724.4 826.7h0M714.0 829.0h0M715.7 831.7h0M712.8 833.4h0M718.9 833.5h0M706.7 838.0h0M708.9 837.4h0M711.6 837.0h0M715.5 837.0h0M704.1 840.9h0M706.9 841.0h0M712.7 841.4h0M716.1 841.4h0M717.7 841.0h0M705.0 841.2h0M710.7 841.2h0M713.8 842.3h0M716.2 842.8h0M722.2 844.2h0M699.0 847.4h0M703.1 845.5h0M708.2 845.1h0M712.3 844.6h0M716.4 845.3h0M717.4 845.6h0M726.9 847.3h0M727.8 844.8h0M701.0 849.1h0M706.2 847.6h0M708.2 850.4h0M713.1 847.4h0M715.3 847.3h0M720.5 848.4h0M724.0 849.5h0M727.4 848.6h0M730.4 850.2h0M701.6 850.6h0M705.7 851.7h0M706.5 850.4h0M711.2 852.5h0M713.8 851.9h0M716.9 850.5h0M722.8 850.2h0M723.8 852.3h0M729.2 851.7h0M732.8 852.7h0M706.9 854.8h0M707.9 856.6h0M717.3 855.3h0M718.3 853.8h0M722.9 856.5h0M726.8 856.2h0M730.0 854.6h0M732.8 854.4h0M711.2 856.6h0M698.0 849.7h0M700.4 852.2h0M710.1 859.5h0M713.8 857.4h0M720.1 855.7h0M722.5 856.5h0M727.4 856.7h0M731.4 856.0h0M733.8 856.6h0M733.5 850.6h0M730.1 845.9h0M731.0 845.3h0M725.4 840.9h0M720.3 841.7h0M717.9 841.6h0M720.7 831.8h0M722.2 830.2h0M726.8 825.9h0M723.8 820.5h0M722.2 821.5h0M715.8 827.8h0M713.6 832.3h0M709.0 833.8h0M710.3 834.5h0M703.9 838.7h0M699.7 843.3h0M698.0 846.9h0M705.6 832.5h0M734.1 813.5h0M733.3 819.9h0M743.6 841.2h0M739.6 851.5h0M737.2 844.4h0M735.6 842.8h0M750.0 793.9h0M751.6 789.4h0M617.3 875.5h0M621.0 876.7h0M622.2 879.4h0M624.4 880.7h0M626.0 884.2h0M628.2 885.9h0M629.5 888.8h0M631.2 891.5h0M632.7 894.6h0M633.3 897.4h0M635.8 900.7h0M637.5 902.8h0M636.9 906.3h0M637.1 909.6h0M636.3 912.0h0M634.2 914.9h0M633.0 917.0h0M630.6 920.0h0M627.9 921.4h0M626.9 923.1h0M630.5 925.1h0M633.4 925.7h0M628.8 903.8h0M624.0 919.6h0M595.1 776.3h0M605.0 777.6h0M609.8 784.2h0M610.3 789.0h0M607.4 844.4h0M612.2 841.2h0M610.6 848.4h0M613.4 857.9h0M649.4 914.1h0M656.5 915.6h0M666.0 919.6h0M681.3 925.5h0M698.8 932.9h0M702.3 933.1h0M705.2 932.6h0M709.4 933.8h0M713.0 933.7h0M715.0 934.3h0M718.7 935.0h0M721.4 936.3h0M725.0 937.3h0M728.0 938.8h0M713.5 940.7h0M717.3 938.6h0M719.3 938.6h0M716.1 941.2h0M719.7 941.9h0M713.2 934.4h0M714.5 942.9h0M714.1 947.1h0M718.6 943.7h0M713.4 936.7h0M508.8 918.4h0M509.3 922.8h0M522.3 1003.6h0M436.2 1044.1h0M441.7 1041.9h0M656.2 981.2h0M659.4 984.1h0M651.8 914.1h0M656.2 916.2h0M665.9 919.5h0M517.7 970.0h0M519.1 972.0h0M520.1 975.6h0M520.8 977.5h0M522.0 980.4h0M522.9 984.6h0M523.1 986.9h0M522.9 989.9h0M525.6 992.8h0M528.8 992.6h0M530.5 991.8h0M532.2 994.0h0M531.8 996.6h0M532.6 999.0h0M530.8 1002.2h0M530.4 1005.1h0M530.0 1008.6h0M528.2 1011.5h0M525.5 1013.2h0M522.5 1013.6h0M519.7 1015.4h0M517.6 1017.6h0M515.5 1018.7h0M529.0 994.0h0M529.3 995.5h0M531.7 999.4h0M530.4 1002.8h0M531.5 1002.4h0M528.7 1005.7h0M528.3 1010.4h0M531.5 1007.4h0M526.3 1010.4h0M528.8 1011.6h0M522.4 1015.2h0M523.7 1013.0h0M528.1 1013.4h0M518.0 1016.5h0M524.1 1016.1h0M530.1 993.8h0M529.7 999.3h0M527.6 1001.6h0M526.0 1003.0h0M523.4 1010.6h0M523.8 1010.4h0M519.6 1015.3h0M522.3 1016.3h0M525.9 1015.8h0M530.8 1012.7h0M531.2 1008.9h0M532.9 1008.0h0M532.6 1002.3h0M532.5 996.0h0M532.9 993.2h0M629.2 908.1h0M633.8 909.6h0M635.2 908.9h0M628.2 912.4h0M629.5 912.3h0M634.0 912.0h0M627.8 915.6h0M634.6 916.5h0M627.5 919.0h0M629.7 919.4h0M635.1 918.2h0M627.0 923.3h0M628.4 922.8h0M633.7 920.3h0M629.3 907.3h0M626.4 912.8h0M624.2 913.9h0M624.9 919.4h0M625.6 921.4h0M629.1 925.8h0M635.1 919.7h0M636.8 915.2h0M634.6 910.9h0M636.2 908.5h0M635.6 908.7h0M704.3 935.6h0M703.1 935.6h0M705.8 937.4h0M709.6 935.6h0M716.8 938.4h0M709.1 939.6h0M712.0 939.5h0M718.5 940.6h0M724.1 938.6h0M709.5 943.8h0M714.8 944.3h0M718.4 941.7h0M720.0 944.5h0M714.5 946.9h0M705.2 934.3h0M705.1 937.4h0M708.1 940.3h0M711.7 948.1h0M716.1 945.4h0M719.7 943.8h0M721.7 942.6h0M723.8 938.7h0M718.9 937.6h0M709.5 935.7h0M705.3 932.8h0M523.5 466.1h0M510.4 471.6h0M512.4 471.8h0M520.5 470.9h0M523.4 471.0h0M509.5 471.8h0M514.1 474.3h0M519.8 472.1h0M509.8 476.4h0M512.7 476.6h0M522.7 476.2h0M512.2 485.2h0M522.5 481.6h0M527.4 480.7h0M510.1 486.9h0M514.3 488.9h0M519.1 489.8h0M524.6 487.1h0M509.5 493.2h0M516.2 491.9h0M519.3 491.9h0M525.7 493.0h0M512.7 497.9h0M517.2 498.7h0M522.3 497.2h0M509.2 500.4h0M513.2 499.5h0M518.5 502.3h0M505.9 468.8h0M504.8 474.6h0M506.8 477.1h0M504.3 480.5h0M504.5 487.2h0M505.3 490.3h0M505.4 498.0h0M508.8 501.8h0M514.0 503.9h0M518.8 504.0h0M522.1 504.8h0M522.1 498.7h0M528.3 496.1h0M529.3 490.6h0M529.7 483.2h0M527.0 479.6h0M525.2 474.9h0M524.5 468.9h0M520.5 464.9h0M517.4 467.9h0M514.5 468.9h0M511.2 467.1h0" stroke="#d3d3d3" stroke-width="5.6" stroke-linecap="round" fill="none"/>
<path d="M801.9 306.2h0M799.6 317.8h0M484.7 354.7h0M197.7 546.0h0" stroke="#0000ff" stroke-width="5.6" stroke-linecap="round" fill="none"/>
<path d="M95.5 51V1119.5H1118" stroke="#000" stroke-width="3" fill="none" stroke-linecap="butt"/>
<line x1="141.7" y1="1121" x2="141.7" y2="1124.6" stroke="#000" stroke-width="3"/>
<text x="141.7" y="1148" font-size="30.3" text-anchor="middle">-15</text>
<line x1="307.5" y1="1121" x2="307.5" y2="1124.6" stroke="#000" stroke-width="3"/>
<text x="307.5" y="1148" font-size="30.3" text-anchor="middle">-10</text>
<line x1="473.3" y1="1121" x2="473.3" y2="1124.6" stroke="#000" stroke-width="3"/>
<text x="473.3" y="1148" font-size="30.3" text-anchor="middle">-5</text>
<line x1="639" y1="1121" x2="639" y2="1124.6" stroke="#000" stroke-width="3"/>
<text x="639" y="1148" font-size="30.3" text-anchor="middle">0</text>
<line x1="804.8" y1="1121" x2="804.8" y2="1124.6" stroke="#000" stroke-width="3"/>
<text x="804.8" y="1148" font-size="30.3" text-anchor="middle">5</text>
<line x1="970.6" y1="1121" x2="970.6" y2="1124.6" stroke="#000" stroke-width="3"/>
<text x="970.6" y="1148" font-size="30.3" text-anchor="middle">10</text>
<line x1="90.5" y1="277.5" x2="94" y2="277.5" stroke="#000" stroke-width="3"/>
<text x="89" y="288.0" font-size="30.3" text-anchor="end">10</text>
<line x1="90.5" y1="571.5" x2="94" y2="571.5" stroke="#000" stroke-width="3"/>
<text x="89" y="582.0" font-size="30.3" text-anchor="end">0</text>
<line x1="90.5" y1="865.3" x2="94" y2="865.3" stroke="#000" stroke-width="3"/>
<text x="89" y="875.8" font-size="30.3" text-anchor="end">-10</text>
<text transform="translate(604 36.7) scale(0.985 1.04)" x="0" y="0" font-size="33.5" font-weight="bold" text-anchor="middle">Gm13031</text>
<text x="604" y="1181.2" font-size="30.3" text-anchor="middle">umapNC_1</text>
<text transform="translate(34.2 586) rotate(-90)" x="0" y="0" font-size="30.3" text-anchor="middle">umapNC_2</text>
<defs><linearGradient id="g" x1="0" y1="0" x2="0" y2="1"><stop offset="0.0" stop-color="#0000ff"/><stop offset="0.1" stop-color="#4926fb"/><stop offset="0.2" stop-color="#673df8"/><stop offset="0.3" stop-color="#7c51f4"/><stop offset="0.4" stop-color="#8e65f0"/><stop offset="0.5" stop-color="#9d77ec"/><stop offset="0.6" stop-color="#aa89e7"/><stop offset="0.7" stop-color="#b69ce3"/><stop offset="0.8" stop-color="#c1aede"/><stop offset="0.9" stop-color="#cac0d9"/><stop offset="1.0" stop-color="#d3d3d3"/></linearGradient></defs>
<rect x="1130.2" y="547.4" width="15.5" height="76.6" fill="url(#g)"/>
<line x1="1130.2" y1="558.5" x2="1133.2" y2="558.5" stroke="#fff" stroke-width="0.8" opacity="0.7"/>
<line x1="1142.7" y1="558.5" x2="1145.7" y2="558.5" stroke="#fff" stroke-width="0.8" opacity="0.7"/>
<line x1="1130.2" y1="580.5" x2="1133.2" y2="580.5" stroke="#fff" stroke-width="0.8" opacity="0.7"/>
<line x1="1142.7" y1="580.5" x2="1145.7" y2="580.5" stroke="#fff" stroke-width="0.8" opacity="0.7"/>
<line x1="1130.2" y1="602.5" x2="1133.2" y2="602.5" stroke="#fff" stroke-width="0.8" opacity="0.7"/>
<line x1="1142.7" y1="602.5" x2="1145.7" y2="602.5" stroke="#fff" stroke-width="0.8" opacity="0.7"/>
<text x="1154" y="567.3" font-size="24.5">0.6</text>
<text x="1154" y="589.3" font-size="24.5">0.4</text>
<text x="1154" y="611.3" font-size="24.5">0.2</text>
<text x="1154" y="633.3" font-size="24.5">0.0</text>
</svg></body></html>
